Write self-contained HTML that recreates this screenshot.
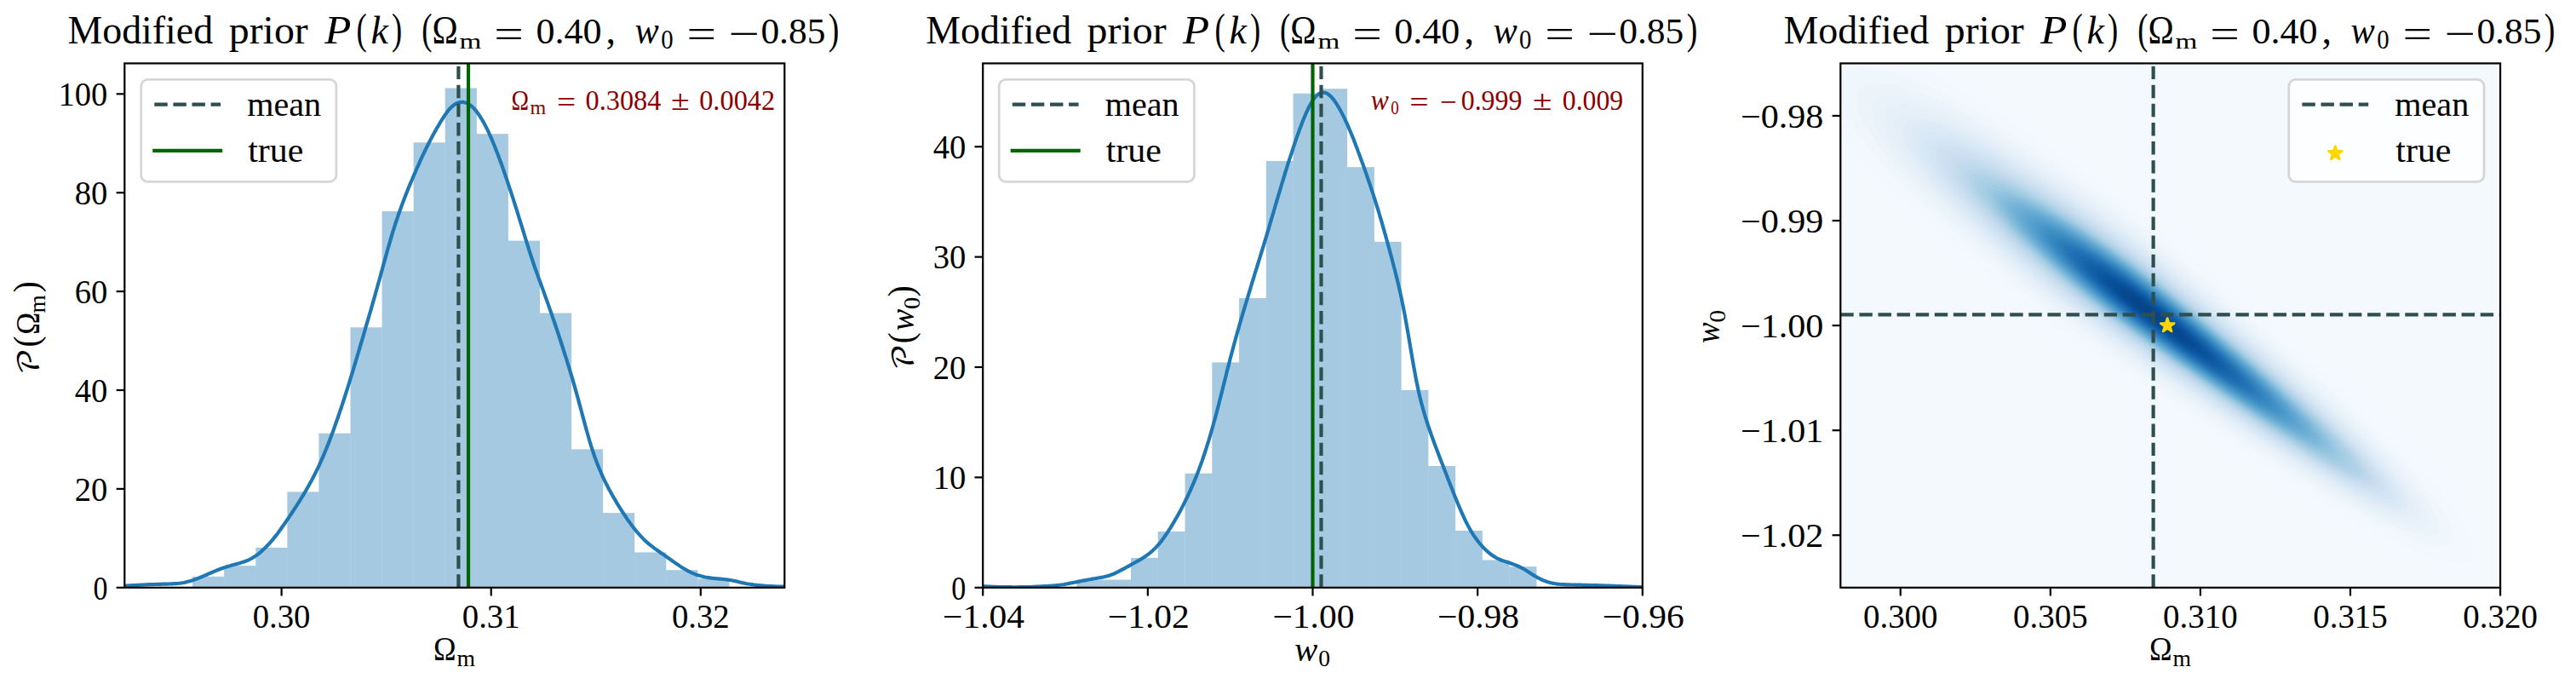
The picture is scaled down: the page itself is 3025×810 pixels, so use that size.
<!DOCTYPE html>
<html><head><meta charset="utf-8"><title>Modified prior P(k)</title>
<style>html,body{margin:0;padding:0;background:#fff}svg{display:block}</style></head>
<body>
<svg width="3025" height="810" viewBox="0 0 3025 810" font-family="'Liberation Serif', 'DejaVu Serif', serif">
<rect width="3025" height="810" fill="#fff"/>
<clipPath id="c1"><rect x="146.3" y="74.4" width="775.0" height="615.4"/></clipPath>
<g clip-path="url(#c1)">
<rect x="226.10" y="676.80" width="37.08" height="13.00" fill="#1f77b4" fill-opacity="0.4"/>
<rect x="263.18" y="664.10" width="37.08" height="25.70" fill="#1f77b4" fill-opacity="0.4"/>
<rect x="300.26" y="642.90" width="37.08" height="46.90" fill="#1f77b4" fill-opacity="0.4"/>
<rect x="337.34" y="577.40" width="37.08" height="112.40" fill="#1f77b4" fill-opacity="0.4"/>
<rect x="374.42" y="508.70" width="37.08" height="181.10" fill="#1f77b4" fill-opacity="0.4"/>
<rect x="411.50" y="384.30" width="37.08" height="305.50" fill="#1f77b4" fill-opacity="0.4"/>
<rect x="448.58" y="248.00" width="37.08" height="441.80" fill="#1f77b4" fill-opacity="0.4"/>
<rect x="485.66" y="167.30" width="37.08" height="522.50" fill="#1f77b4" fill-opacity="0.4"/>
<rect x="522.74" y="103.40" width="37.08" height="586.40" fill="#1f77b4" fill-opacity="0.4"/>
<rect x="559.82" y="157.20" width="37.08" height="532.60" fill="#1f77b4" fill-opacity="0.4"/>
<rect x="596.90" y="282.60" width="37.08" height="407.20" fill="#1f77b4" fill-opacity="0.4"/>
<rect x="633.98" y="367.50" width="37.08" height="322.30" fill="#1f77b4" fill-opacity="0.4"/>
<rect x="671.06" y="527.40" width="37.08" height="162.40" fill="#1f77b4" fill-opacity="0.4"/>
<rect x="708.14" y="602.10" width="37.08" height="87.70" fill="#1f77b4" fill-opacity="0.4"/>
<rect x="745.22" y="648.40" width="37.08" height="41.40" fill="#1f77b4" fill-opacity="0.4"/>
<rect x="782.30" y="669.20" width="37.08" height="20.60" fill="#1f77b4" fill-opacity="0.4"/>
<rect x="819.38" y="679.30" width="37.08" height="10.50" fill="#1f77b4" fill-opacity="0.4"/>
<path d="M145.8,687.6 L147.7,687.6 L149.7,687.5 L151.6,687.4 L153.6,687.3 L155.5,687.2 L157.5,687.1 L159.4,687.0 L161.4,686.9 L163.3,686.8 L165.2,686.7 L167.2,686.6 L169.1,686.5 L171.1,686.4 L173.0,686.3 L175.0,686.2 L176.9,686.2 L178.8,686.1 L180.8,686.0 L182.7,686.0 L184.7,685.9 L186.6,685.8 L188.6,685.8 L190.5,685.7 L192.5,685.7 L194.4,685.6 L196.3,685.6 L198.3,685.5 L200.2,685.4 L202.2,685.3 L204.1,685.2 L206.1,685.1 L208.0,685.0 L210.0,684.8 L211.9,684.6 L213.8,684.3 L215.8,684.0 L217.7,683.6 L219.7,683.1 L221.6,682.6 L223.6,682.1 L225.5,681.4 L227.5,680.8 L229.4,680.1 L231.3,679.4 L233.3,678.6 L235.2,677.8 L237.2,677.0 L239.1,676.2 L241.1,675.3 L243.0,674.5 L244.9,673.6 L246.9,672.8 L248.8,672.0 L250.8,671.1 L252.7,670.3 L254.7,669.5 L256.6,668.8 L258.6,668.0 L260.5,667.3 L262.4,666.6 L264.4,666.0 L266.3,665.3 L268.3,664.7 L270.2,664.2 L272.2,663.6 L274.1,663.1 L276.1,662.5 L278.0,662.0 L279.9,661.4 L281.9,660.9 L283.8,660.3 L285.8,659.7 L287.7,659.0 L289.7,658.3 L291.6,657.5 L293.6,656.5 L295.5,655.5 L297.4,654.4 L299.4,653.1 L301.3,651.8 L303.3,650.3 L305.2,648.8 L307.2,647.1 L309.1,645.3 L311.0,643.5 L313.0,641.5 L314.9,639.5 L316.9,637.4 L318.8,635.2 L320.8,632.8 L322.7,630.4 L324.7,627.9 L326.6,625.4 L328.5,622.7 L330.5,620.0 L332.4,617.2 L334.4,614.5 L336.3,611.6 L338.3,608.8 L340.2,605.9 L342.2,603.0 L344.1,600.1 L346.0,597.1 L348.0,594.1 L349.9,591.1 L351.9,588.0 L353.8,584.9 L355.8,581.7 L357.7,578.4 L359.7,575.1 L361.6,571.7 L363.5,568.3 L365.5,564.7 L367.4,561.1 L369.4,557.3 L371.3,553.4 L373.3,549.4 L375.2,545.3 L377.1,541.0 L379.1,536.6 L381.0,532.0 L383.0,527.3 L384.9,522.4 L386.9,517.4 L388.8,512.3 L390.8,507.1 L392.7,501.8 L394.6,496.3 L396.6,490.7 L398.5,485.1 L400.5,479.3 L402.4,473.4 L404.4,467.4 L406.3,461.4 L408.3,455.2 L410.2,449.0 L412.1,442.7 L414.1,436.3 L416.0,429.9 L418.0,423.4 L419.9,416.9 L421.9,410.3 L423.8,403.7 L425.8,397.1 L427.7,390.5 L429.6,383.8 L431.6,377.2 L433.5,370.5 L435.5,363.8 L437.4,357.0 L439.4,350.2 L441.3,343.4 L443.2,336.5 L445.2,329.5 L447.1,322.4 L449.1,315.3 L451.0,308.2 L453.0,301.1 L454.9,294.1 L456.9,287.3 L458.8,280.6 L460.7,274.1 L462.7,267.8 L464.6,261.7 L466.6,255.9 L468.5,250.2 L470.5,244.7 L472.4,239.4 L474.4,234.3 L476.3,229.2 L478.2,224.4 L480.2,219.6 L482.1,214.9 L484.1,210.3 L486.0,205.7 L488.0,201.3 L489.9,196.8 L491.9,192.5 L493.8,188.2 L495.7,184.0 L497.7,179.8 L499.6,175.8 L501.6,171.9 L503.5,168.0 L505.5,164.3 L507.4,160.6 L509.3,157.1 L511.3,153.6 L513.2,150.1 L515.2,146.8 L517.1,143.5 L519.1,140.3 L521.0,137.3 L523.0,134.4 L524.9,131.7 L526.8,129.2 L528.8,127.0 L530.7,125.1 L532.7,123.5 L534.6,122.1 L536.6,121.1 L538.5,120.4 L540.5,119.9 L542.4,119.8 L544.3,119.9 L546.3,120.4 L548.2,121.1 L550.2,122.1 L552.1,123.4 L554.1,125.0 L556.0,126.8 L558.0,128.9 L559.9,131.3 L561.8,133.9 L563.8,136.8 L565.7,139.9 L567.7,143.3 L569.6,146.9 L571.6,150.7 L573.5,154.7 L575.4,158.9 L577.4,163.3 L579.3,168.0 L581.3,172.7 L583.2,177.7 L585.2,182.8 L587.1,188.0 L589.1,193.3 L591.0,198.8 L592.9,204.4 L594.9,210.1 L596.8,215.9 L598.8,221.8 L600.7,227.7 L602.7,233.7 L604.6,239.8 L606.6,245.9 L608.5,252.1 L610.4,258.3 L612.4,264.6 L614.3,270.9 L616.3,277.3 L618.2,283.6 L620.2,289.9 L622.1,296.0 L624.1,302.0 L626.0,307.9 L627.9,313.5 L629.9,319.0 L631.8,324.4 L633.8,329.7 L635.7,335.0 L637.7,340.4 L639.6,345.7 L641.5,351.1 L643.5,356.6 L645.4,362.1 L647.4,367.7 L649.3,373.3 L651.3,379.0 L653.2,384.8 L655.2,390.6 L657.1,396.5 L659.0,402.5 L661.0,408.5 L662.9,414.6 L664.9,420.8 L666.8,427.0 L668.8,433.4 L670.7,439.8 L672.7,446.4 L674.6,453.1 L676.5,459.9 L678.5,466.9 L680.4,474.1 L682.4,481.3 L684.3,488.6 L686.3,495.9 L688.2,503.0 L690.2,510.0 L692.1,516.7 L694.0,523.2 L696.0,529.2 L697.9,535.0 L699.9,540.4 L701.8,545.5 L703.8,550.3 L705.7,554.8 L707.6,559.1 L709.6,563.3 L711.5,567.2 L713.5,571.0 L715.4,574.7 L717.4,578.3 L719.3,581.8 L721.3,585.1 L723.2,588.4 L725.1,591.7 L727.1,594.8 L729.0,597.9 L731.0,601.0 L732.9,603.9 L734.9,606.8 L736.8,609.7 L738.8,612.4 L740.7,615.1 L742.6,617.7 L744.6,620.2 L746.5,622.6 L748.5,625.0 L750.4,627.2 L752.4,629.4 L754.3,631.4 L756.3,633.4 L758.2,635.2 L760.1,637.0 L762.1,638.6 L764.0,640.2 L766.0,641.7 L767.9,643.2 L769.9,644.6 L771.8,646.0 L773.7,647.3 L775.7,648.7 L777.6,650.0 L779.6,651.4 L781.5,652.7 L783.5,654.1 L785.4,655.5 L787.4,656.9 L789.3,658.2 L791.2,659.6 L793.2,661.0 L795.1,662.3 L797.1,663.6 L799.0,664.9 L801.0,666.2 L802.9,667.4 L804.9,668.5 L806.8,669.6 L808.7,670.7 L810.7,671.6 L812.6,672.6 L814.6,673.4 L816.5,674.2 L818.5,674.9 L820.4,675.5 L822.4,676.1 L824.3,676.6 L826.2,677.1 L828.2,677.5 L830.1,677.8 L832.1,678.1 L834.0,678.4 L836.0,678.7 L837.9,678.9 L839.8,679.1 L841.8,679.3 L843.7,679.4 L845.7,679.6 L847.6,679.8 L849.6,680.0 L851.5,680.2 L853.5,680.4 L855.4,680.7 L857.3,681.0 L859.3,681.3 L861.2,681.7 L863.2,682.1 L865.1,682.5 L867.1,683.0 L869.0,683.5 L871.0,683.9 L872.9,684.4 L874.8,684.8 L876.8,685.2 L878.7,685.5 L880.7,685.8 L882.6,686.1 L884.6,686.4 L886.5,686.6 L888.5,686.9 L890.4,687.1 L892.3,687.2 L894.3,687.4 L896.2,687.6 L898.2,687.7 L900.1,687.9 L902.1,688.0 L904.0,688.1 L905.9,688.2 L907.9,688.3 L909.8,688.4 L911.8,688.5 L913.7,688.5 L915.7,688.6 L917.6,688.6 L919.6,688.7 L921.5,688.7" fill="none" stroke="#1f77b4" stroke-width="4.17" stroke-linejoin="round" stroke-linecap="butt"/>
</g>
<line x1="538.40" y1="689.80" x2="538.40" y2="74.40" stroke="#2f4f4f" stroke-width="4.17" stroke-dasharray="15.43 6.67"/>
<line x1="550.00" y1="689.80" x2="550.00" y2="74.40" stroke="#006400" stroke-width="4.17"/>
<rect x="146.30" y="74.40" width="775.00" height="615.40" fill="none" stroke="#000" stroke-width="2.2"/>
<line x1="330.60" y1="689.80" x2="330.60" y2="699.50" stroke="#000" stroke-width="2.2"/>
<text x="330.60" y="736.60" font-size="39.60" text-anchor="middle" textLength="67.80" lengthAdjust="spacingAndGlyphs" >0.30</text>
<line x1="576.70" y1="689.80" x2="576.70" y2="699.50" stroke="#000" stroke-width="2.2"/>
<text x="576.70" y="736.60" font-size="39.60" text-anchor="middle" textLength="67.80" lengthAdjust="spacingAndGlyphs" >0.31</text>
<line x1="822.80" y1="689.80" x2="822.80" y2="699.50" stroke="#000" stroke-width="2.2"/>
<text x="822.80" y="736.60" font-size="39.60" text-anchor="middle" textLength="67.80" lengthAdjust="spacingAndGlyphs" >0.32</text>
<line x1="136.60" y1="689.80" x2="146.30" y2="689.80" stroke="#000" stroke-width="2.2"/>
<text x="126.40" y="703.50" font-size="39.60" text-anchor="end" textLength="17.00" lengthAdjust="spacingAndGlyphs" >0</text>
<line x1="136.60" y1="573.90" x2="146.30" y2="573.90" stroke="#000" stroke-width="2.2"/>
<text x="126.40" y="587.60" font-size="39.60" text-anchor="end" textLength="38.60" lengthAdjust="spacingAndGlyphs" >20</text>
<line x1="136.60" y1="458.00" x2="146.30" y2="458.00" stroke="#000" stroke-width="2.2"/>
<text x="126.40" y="471.70" font-size="39.60" text-anchor="end" textLength="38.60" lengthAdjust="spacingAndGlyphs" >40</text>
<line x1="136.60" y1="342.10" x2="146.30" y2="342.10" stroke="#000" stroke-width="2.2"/>
<text x="126.40" y="355.80" font-size="39.60" text-anchor="end" textLength="38.60" lengthAdjust="spacingAndGlyphs" >60</text>
<line x1="136.60" y1="226.20" x2="146.30" y2="226.20" stroke="#000" stroke-width="2.2"/>
<text x="126.40" y="239.90" font-size="39.60" text-anchor="end" textLength="38.60" lengthAdjust="spacingAndGlyphs" >80</text>
<line x1="136.60" y1="110.30" x2="146.30" y2="110.30" stroke="#000" stroke-width="2.2"/>
<text x="126.40" y="124.00" font-size="39.60" text-anchor="end" textLength="57.80" lengthAdjust="spacingAndGlyphs" >100</text>
<text x="79.40" y="50.60" font-size="46.00" textLength="170.80" lengthAdjust="spacingAndGlyphs" >Modified</text>
<text x="268.70" y="50.60" font-size="46.00" textLength="93.10" lengthAdjust="spacingAndGlyphs" >prior</text>
<text x="381.20" y="50.60" font-size="46.00" font-style="italic" textLength="31.10" lengthAdjust="spacingAndGlyphs" >P</text>
<text x="418.60" y="50.60" font-size="50.00" textLength="12.20" lengthAdjust="spacingAndGlyphs" >(</text>
<text x="435.60" y="50.60" font-size="46.00" font-style="italic" textLength="20.40" lengthAdjust="spacingAndGlyphs" >k</text>
<text x="460.00" y="50.60" font-size="50.00" textLength="12.20" lengthAdjust="spacingAndGlyphs" >)</text>
<text x="495.20" y="50.60" font-size="50.00" textLength="12.20" lengthAdjust="spacingAndGlyphs" >(</text>
<text x="507.40" y="50.60" font-size="46.00" textLength="30.20" lengthAdjust="spacingAndGlyphs" >Ω</text>
<text x="539.60" y="57.40" font-size="26.00" textLength="25.80" lengthAdjust="spacingAndGlyphs" >m</text>
<text x="580.30" y="55.00" font-size="46.00" textLength="34.60" lengthAdjust="spacingAndGlyphs" >=</text>
<text x="629.40" y="50.60" font-size="42.00" textLength="77.00" lengthAdjust="spacingAndGlyphs" >0.40</text>
<text x="711.60" y="50.60" font-size="46.00" >,</text>
<text x="745.50" y="50.60" font-size="46.00" font-style="italic" textLength="28.20" lengthAdjust="spacingAndGlyphs" >w</text>
<text x="776.20" y="57.40" font-size="31.00" textLength="14.40" lengthAdjust="spacingAndGlyphs" >0</text>
<text x="806.40" y="55.00" font-size="46.00" textLength="34.60" lengthAdjust="spacingAndGlyphs" >=</text>
<text x="855.80" y="55.00" font-size="46.00" textLength="36.60" lengthAdjust="spacingAndGlyphs" >−</text>
<text x="893.40" y="50.60" font-size="42.00" textLength="76.00" lengthAdjust="spacingAndGlyphs" >0.85</text>
<text x="972.80" y="50.60" font-size="50.00" textLength="12.60" lengthAdjust="spacingAndGlyphs" >)</text>
<rect x="165.70" y="93.40" width="229.2" height="119.9" rx="7.8" ry="7.8" fill="#fff" fill-opacity="0.8" stroke="#ccc" stroke-opacity="0.8" stroke-width="2.78"/>
<line x1="181.30" y1="122.6" x2="259.10" y2="122.6" stroke="#2f4f4f" stroke-width="4.17" stroke-dasharray="15.43 6.67"/>
<line x1="181.30" y1="176.8" x2="259.10" y2="176.8" stroke="#006400" stroke-width="4.17" stroke-linecap="square"/>
<text x="290.20" y="136.20" font-size="39.60" textLength="87.00" lengthAdjust="spacingAndGlyphs" >mean</text>
<text x="291.20" y="190.00" font-size="39.60" textLength="65.20" lengthAdjust="spacingAndGlyphs" >true</text>
<text x="600.40" y="128.70" font-size="33.50" textLength="20.50" lengthAdjust="spacingAndGlyphs" fill="#8b0000" >Ω</text>
<text x="622.60" y="133.60" font-size="23.50" textLength="18.70" lengthAdjust="spacingAndGlyphs" fill="#8b0000" >m</text>
<text x="653.90" y="130.70" font-size="33.50" textLength="22.20" lengthAdjust="spacingAndGlyphs" fill="#8b0000" >=</text>
<text x="687.60" y="128.70" font-size="33.50" textLength="88.80" lengthAdjust="spacingAndGlyphs" fill="#8b0000" >0.3084</text>
<text x="787.90" y="128.70" font-size="33.50" textLength="21.70" lengthAdjust="spacingAndGlyphs" fill="#8b0000" >±</text>
<text x="821.20" y="128.70" font-size="33.50" textLength="89.00" lengthAdjust="spacingAndGlyphs" fill="#8b0000" >0.0042</text>
<text x="508.90" y="774.90" font-size="39.80" textLength="26.60" lengthAdjust="spacingAndGlyphs" >Ω</text>
<text x="536.50" y="781.60" font-size="27.50" textLength="21.50" lengthAdjust="spacingAndGlyphs" >m</text>
<g transform="translate(46.4,438) rotate(-90)">
<text x="-2.00" y="0.00" font-size="34.00" textLength="31.00" lengthAdjust="spacingAndGlyphs" font-family="'DejaVu Math TeX Gyre','Liberation Serif',serif" >𝒫</text>
<text x="30.50" y="-1.00" font-size="43.00" textLength="13.00" lengthAdjust="spacingAndGlyphs" >(</text>
<text x="45.20" y="0.00" font-size="39.80" textLength="26.00" lengthAdjust="spacingAndGlyphs" >Ω</text>
<text x="70.60" y="6.70" font-size="27.50" textLength="21.30" lengthAdjust="spacingAndGlyphs" >m</text>
<text x="94.70" y="-1.00" font-size="43.00" textLength="13.00" lengthAdjust="spacingAndGlyphs" >)</text>
</g>
<clipPath id="c2"><rect x="1154.2" y="74.4" width="774.5999999999999" height="615.4"/></clipPath>
<g clip-path="url(#c2)">
<rect x="1264.50" y="680.50" width="31.76" height="9.30" fill="#1f77b4" fill-opacity="0.4"/>
<rect x="1296.26" y="680.50" width="31.76" height="9.30" fill="#1f77b4" fill-opacity="0.4"/>
<rect x="1328.02" y="654.90" width="31.76" height="34.90" fill="#1f77b4" fill-opacity="0.4"/>
<rect x="1359.78" y="623.90" width="31.76" height="65.90" fill="#1f77b4" fill-opacity="0.4"/>
<rect x="1391.54" y="555.70" width="31.76" height="134.10" fill="#1f77b4" fill-opacity="0.4"/>
<rect x="1423.30" y="425.40" width="31.76" height="264.40" fill="#1f77b4" fill-opacity="0.4"/>
<rect x="1455.06" y="349.90" width="31.76" height="339.90" fill="#1f77b4" fill-opacity="0.4"/>
<rect x="1486.82" y="189.00" width="31.76" height="500.80" fill="#1f77b4" fill-opacity="0.4"/>
<rect x="1518.58" y="109.70" width="31.76" height="580.10" fill="#1f77b4" fill-opacity="0.4"/>
<rect x="1550.34" y="104.20" width="31.76" height="585.60" fill="#1f77b4" fill-opacity="0.4"/>
<rect x="1582.10" y="196.20" width="31.76" height="493.60" fill="#1f77b4" fill-opacity="0.4"/>
<rect x="1613.86" y="283.80" width="31.76" height="406.00" fill="#1f77b4" fill-opacity="0.4"/>
<rect x="1645.62" y="457.90" width="31.76" height="231.90" fill="#1f77b4" fill-opacity="0.4"/>
<rect x="1677.38" y="547.00" width="31.76" height="142.80" fill="#1f77b4" fill-opacity="0.4"/>
<rect x="1709.14" y="623.00" width="31.76" height="66.80" fill="#1f77b4" fill-opacity="0.4"/>
<rect x="1740.90" y="657.40" width="31.76" height="32.40" fill="#1f77b4" fill-opacity="0.4"/>
<rect x="1772.66" y="665.20" width="31.76" height="24.60" fill="#1f77b4" fill-opacity="0.4"/>
<path d="M1150.0,688.2 L1152.0,688.2 L1153.9,688.3 L1155.9,688.4 L1157.8,688.4 L1159.8,688.5 L1161.7,688.6 L1163.7,688.7 L1165.6,688.8 L1167.6,688.8 L1169.5,688.9 L1171.5,689.0 L1173.4,689.0 L1175.4,689.1 L1177.3,689.1 L1179.3,689.1 L1181.2,689.2 L1183.2,689.2 L1185.1,689.2 L1187.1,689.2 L1189.0,689.3 L1191.0,689.3 L1192.9,689.3 L1194.9,689.3 L1196.8,689.2 L1198.8,689.2 L1200.7,689.2 L1202.7,689.2 L1204.7,689.1 L1206.6,689.1 L1208.6,689.0 L1210.5,689.0 L1212.5,688.9 L1214.4,688.8 L1216.4,688.7 L1218.3,688.6 L1220.3,688.5 L1222.2,688.4 L1224.2,688.3 L1226.1,688.2 L1228.1,688.1 L1230.0,688.0 L1232.0,687.8 L1233.9,687.7 L1235.9,687.5 L1237.8,687.4 L1239.8,687.2 L1241.7,687.0 L1243.7,686.8 L1245.6,686.5 L1247.6,686.3 L1249.5,686.0 L1251.5,685.6 L1253.4,685.3 L1255.4,684.9 L1257.4,684.5 L1259.3,684.1 L1261.3,683.7 L1263.2,683.4 L1265.2,683.0 L1267.1,682.6 L1269.1,682.2 L1271.0,681.8 L1273.0,681.4 L1274.9,681.1 L1276.9,680.7 L1278.8,680.3 L1280.8,680.0 L1282.7,679.6 L1284.7,679.3 L1286.6,679.0 L1288.6,678.6 L1290.5,678.3 L1292.5,677.9 L1294.4,677.6 L1296.4,677.2 L1298.3,676.7 L1300.3,676.2 L1302.2,675.7 L1304.2,675.0 L1306.2,674.3 L1308.1,673.5 L1310.1,672.7 L1312.0,671.7 L1314.0,670.7 L1315.9,669.7 L1317.9,668.6 L1319.8,667.6 L1321.8,666.5 L1323.7,665.4 L1325.7,664.3 L1327.6,663.2 L1329.6,662.1 L1331.5,661.0 L1333.5,660.0 L1335.4,658.9 L1337.4,657.8 L1339.3,656.7 L1341.3,655.5 L1343.2,654.3 L1345.2,653.0 L1347.1,651.6 L1349.1,650.1 L1351.0,648.6 L1353.0,646.9 L1354.9,645.1 L1356.9,643.1 L1358.9,641.0 L1360.8,638.8 L1362.8,636.4 L1364.7,633.9 L1366.7,631.3 L1368.6,628.5 L1370.6,625.6 L1372.5,622.6 L1374.5,619.6 L1376.4,616.4 L1378.4,613.1 L1380.3,609.8 L1382.3,606.4 L1384.2,602.9 L1386.2,599.3 L1388.1,595.6 L1390.1,591.8 L1392.0,587.9 L1394.0,583.9 L1395.9,579.8 L1397.9,575.5 L1399.8,571.2 L1401.8,566.6 L1403.7,561.9 L1405.7,557.0 L1407.6,551.9 L1409.6,546.6 L1411.6,541.1 L1413.5,535.4 L1415.5,529.5 L1417.4,523.4 L1419.4,517.1 L1421.3,510.6 L1423.3,503.9 L1425.2,497.0 L1427.2,489.9 L1429.1,482.5 L1431.1,475.0 L1433.0,467.3 L1435.0,459.5 L1436.9,451.7 L1438.9,443.9 L1440.8,436.1 L1442.8,428.4 L1444.7,420.8 L1446.7,413.5 L1448.6,406.2 L1450.6,399.1 L1452.5,392.1 L1454.5,385.2 L1456.4,378.4 L1458.4,371.7 L1460.3,365.1 L1462.3,358.5 L1464.3,352.0 L1466.2,345.6 L1468.2,339.1 L1470.1,332.7 L1472.1,326.4 L1474.0,320.0 L1476.0,313.7 L1477.9,307.4 L1479.9,301.0 L1481.8,294.7 L1483.8,288.3 L1485.7,281.8 L1487.7,275.3 L1489.6,268.8 L1491.6,262.2 L1493.5,255.6 L1495.5,249.0 L1497.4,242.3 L1499.4,235.7 L1501.3,229.1 L1503.3,222.6 L1505.2,216.0 L1507.2,209.6 L1509.1,203.2 L1511.1,196.9 L1513.0,190.7 L1515.0,184.6 L1517.0,178.6 L1518.9,172.7 L1520.9,166.9 L1522.8,161.3 L1524.8,155.8 L1526.7,150.4 L1528.7,145.3 L1530.6,140.3 L1532.6,135.6 L1534.5,131.1 L1536.5,127.0 L1538.4,123.2 L1540.4,119.8 L1542.3,116.8 L1544.3,114.2 L1546.2,112.1 L1548.2,110.5 L1550.1,109.4 L1552.1,108.7 L1554.0,108.5 L1556.0,108.8 L1557.9,109.5 L1559.9,110.7 L1561.8,112.3 L1563.8,114.3 L1565.8,116.6 L1567.7,119.2 L1569.7,122.2 L1571.6,125.4 L1573.6,128.8 L1575.5,132.4 L1577.5,136.2 L1579.4,140.2 L1581.4,144.4 L1583.3,148.7 L1585.3,153.3 L1587.2,158.0 L1589.2,162.8 L1591.1,167.8 L1593.1,172.9 L1595.0,178.1 L1597.0,183.4 L1598.9,188.7 L1600.9,194.1 L1602.8,199.6 L1604.8,205.1 L1606.7,210.8 L1608.7,216.5 L1610.6,222.3 L1612.6,228.3 L1614.5,234.4 L1616.5,240.7 L1618.5,247.0 L1620.4,253.6 L1622.4,260.2 L1624.3,267.0 L1626.3,273.8 L1628.2,280.8 L1630.2,287.9 L1632.1,295.0 L1634.1,302.3 L1636.0,309.7 L1638.0,317.3 L1639.9,325.1 L1641.9,333.1 L1643.8,341.5 L1645.8,350.4 L1647.7,359.9 L1649.7,369.9 L1651.6,380.6 L1653.6,391.8 L1655.5,403.3 L1657.5,414.8 L1659.4,426.2 L1661.4,437.1 L1663.3,447.3 L1665.3,456.7 L1667.2,465.4 L1669.2,473.2 L1671.2,480.5 L1673.1,487.2 L1675.1,493.5 L1677.0,499.5 L1679.0,505.2 L1680.9,510.8 L1682.9,516.2 L1684.8,521.5 L1686.8,526.7 L1688.7,531.8 L1690.7,536.9 L1692.6,542.0 L1694.6,547.0 L1696.5,552.1 L1698.5,557.1 L1700.4,562.2 L1702.4,567.2 L1704.3,572.1 L1706.3,577.1 L1708.2,581.9 L1710.2,586.7 L1712.1,591.5 L1714.1,596.1 L1716.0,600.7 L1718.0,605.0 L1719.9,609.2 L1721.9,613.3 L1723.9,617.1 L1725.8,620.6 L1727.8,624.0 L1729.7,627.1 L1731.7,630.1 L1733.6,632.8 L1735.6,635.4 L1737.5,637.8 L1739.5,640.1 L1741.4,642.2 L1743.4,644.2 L1745.3,646.1 L1747.3,647.9 L1749.2,649.5 L1751.2,651.0 L1753.1,652.4 L1755.1,653.6 L1757.0,654.8 L1759.0,655.8 L1760.9,656.7 L1762.9,657.5 L1764.8,658.2 L1766.8,658.9 L1768.7,659.6 L1770.7,660.2 L1772.6,660.8 L1774.6,661.5 L1776.6,662.2 L1778.5,662.9 L1780.5,663.6 L1782.4,664.5 L1784.4,665.4 L1786.3,666.3 L1788.3,667.4 L1790.2,668.5 L1792.2,669.7 L1794.1,670.9 L1796.1,672.2 L1798.0,673.4 L1800.0,674.7 L1801.9,675.9 L1803.9,677.0 L1805.8,678.2 L1807.8,679.2 L1809.7,680.2 L1811.7,681.0 L1813.6,681.8 L1815.6,682.5 L1817.5,683.2 L1819.5,683.7 L1821.4,684.2 L1823.4,684.6 L1825.4,685.0 L1827.3,685.3 L1829.3,685.6 L1831.2,685.8 L1833.2,686.0 L1835.1,686.1 L1837.1,686.2 L1839.0,686.3 L1841.0,686.4 L1842.9,686.4 L1844.9,686.5 L1846.8,686.5 L1848.8,686.6 L1850.7,686.6 L1852.7,686.7 L1854.6,686.7 L1856.6,686.7 L1858.5,686.8 L1860.5,686.8 L1862.4,686.9 L1864.4,686.9 L1866.3,687.0 L1868.3,687.0 L1870.2,687.1 L1872.2,687.1 L1874.1,687.2 L1876.1,687.2 L1878.1,687.3 L1880.0,687.3 L1882.0,687.4 L1883.9,687.5 L1885.9,687.5 L1887.8,687.6 L1889.8,687.7 L1891.7,687.8 L1893.7,687.8 L1895.6,687.9 L1897.6,688.0 L1899.5,688.0 L1901.5,688.1 L1903.4,688.2 L1905.4,688.3 L1907.3,688.4 L1909.3,688.4 L1911.2,688.5 L1913.2,688.6 L1915.1,688.7 L1917.1,688.8 L1919.0,688.8 L1921.0,688.9 L1922.9,689.0 L1924.9,689.1 L1926.8,689.1 L1928.8,689.2" fill="none" stroke="#1f77b4" stroke-width="4.17" stroke-linejoin="round" stroke-linecap="butt"/>
</g>
<line x1="1541.50" y1="689.80" x2="1541.50" y2="74.40" stroke="#006400" stroke-width="4.17"/>
<line x1="1551.48" y1="689.80" x2="1551.48" y2="74.40" stroke="#2f4f4f" stroke-width="4.17" stroke-dasharray="15.43 6.67"/>
<rect x="1154.20" y="74.40" width="774.60" height="615.40" fill="none" stroke="#000" stroke-width="2.2"/>
<line x1="1154.20" y1="689.80" x2="1154.20" y2="699.50" stroke="#000" stroke-width="2.2"/>
<text x="1155.10" y="736.60" font-size="39.60" text-anchor="middle" textLength="96.00" lengthAdjust="spacingAndGlyphs" >−1.04</text>
<line x1="1347.85" y1="689.80" x2="1347.85" y2="699.50" stroke="#000" stroke-width="2.2"/>
<text x="1348.75" y="736.60" font-size="39.60" text-anchor="middle" textLength="96.00" lengthAdjust="spacingAndGlyphs" >−1.02</text>
<line x1="1541.50" y1="689.80" x2="1541.50" y2="699.50" stroke="#000" stroke-width="2.2"/>
<text x="1542.40" y="736.60" font-size="39.60" text-anchor="middle" textLength="96.00" lengthAdjust="spacingAndGlyphs" >−1.00</text>
<line x1="1735.15" y1="689.80" x2="1735.15" y2="699.50" stroke="#000" stroke-width="2.2"/>
<text x="1736.05" y="736.60" font-size="39.60" text-anchor="middle" textLength="96.00" lengthAdjust="spacingAndGlyphs" >−0.98</text>
<line x1="1928.80" y1="689.80" x2="1928.80" y2="699.50" stroke="#000" stroke-width="2.2"/>
<text x="1929.70" y="736.60" font-size="39.60" text-anchor="middle" textLength="96.00" lengthAdjust="spacingAndGlyphs" >−0.96</text>
<line x1="1144.50" y1="689.80" x2="1154.20" y2="689.80" stroke="#000" stroke-width="2.2"/>
<text x="1134.30" y="703.50" font-size="39.60" text-anchor="end" textLength="17.00" lengthAdjust="spacingAndGlyphs" >0</text>
<line x1="1144.50" y1="560.40" x2="1154.20" y2="560.40" stroke="#000" stroke-width="2.2"/>
<text x="1134.30" y="574.10" font-size="39.60" text-anchor="end" textLength="38.60" lengthAdjust="spacingAndGlyphs" >10</text>
<line x1="1144.50" y1="431.00" x2="1154.20" y2="431.00" stroke="#000" stroke-width="2.2"/>
<text x="1134.30" y="444.70" font-size="39.60" text-anchor="end" textLength="38.60" lengthAdjust="spacingAndGlyphs" >20</text>
<line x1="1144.50" y1="301.60" x2="1154.20" y2="301.60" stroke="#000" stroke-width="2.2"/>
<text x="1134.30" y="315.30" font-size="39.60" text-anchor="end" textLength="38.60" lengthAdjust="spacingAndGlyphs" >30</text>
<line x1="1144.50" y1="172.20" x2="1154.20" y2="172.20" stroke="#000" stroke-width="2.2"/>
<text x="1134.30" y="185.90" font-size="39.60" text-anchor="end" textLength="38.60" lengthAdjust="spacingAndGlyphs" >40</text>
<text x="1087.30" y="50.60" font-size="46.00" textLength="170.80" lengthAdjust="spacingAndGlyphs" >Modified</text>
<text x="1276.60" y="50.60" font-size="46.00" textLength="93.10" lengthAdjust="spacingAndGlyphs" >prior</text>
<text x="1389.10" y="50.60" font-size="46.00" font-style="italic" textLength="31.10" lengthAdjust="spacingAndGlyphs" >P</text>
<text x="1426.50" y="50.60" font-size="50.00" textLength="12.20" lengthAdjust="spacingAndGlyphs" >(</text>
<text x="1443.50" y="50.60" font-size="46.00" font-style="italic" textLength="20.40" lengthAdjust="spacingAndGlyphs" >k</text>
<text x="1467.90" y="50.60" font-size="50.00" textLength="12.20" lengthAdjust="spacingAndGlyphs" >)</text>
<text x="1503.10" y="50.60" font-size="50.00" textLength="12.20" lengthAdjust="spacingAndGlyphs" >(</text>
<text x="1515.30" y="50.60" font-size="46.00" textLength="30.20" lengthAdjust="spacingAndGlyphs" >Ω</text>
<text x="1547.50" y="57.40" font-size="26.00" textLength="25.80" lengthAdjust="spacingAndGlyphs" >m</text>
<text x="1588.20" y="55.00" font-size="46.00" textLength="34.60" lengthAdjust="spacingAndGlyphs" >=</text>
<text x="1637.30" y="50.60" font-size="42.00" textLength="77.00" lengthAdjust="spacingAndGlyphs" >0.40</text>
<text x="1719.50" y="50.60" font-size="46.00" >,</text>
<text x="1753.40" y="50.60" font-size="46.00" font-style="italic" textLength="28.20" lengthAdjust="spacingAndGlyphs" >w</text>
<text x="1784.10" y="57.40" font-size="31.00" textLength="14.40" lengthAdjust="spacingAndGlyphs" >0</text>
<text x="1814.30" y="55.00" font-size="46.00" textLength="34.60" lengthAdjust="spacingAndGlyphs" >=</text>
<text x="1863.70" y="55.00" font-size="46.00" textLength="36.60" lengthAdjust="spacingAndGlyphs" >−</text>
<text x="1901.30" y="50.60" font-size="42.00" textLength="76.00" lengthAdjust="spacingAndGlyphs" >0.85</text>
<text x="1980.70" y="50.60" font-size="50.00" textLength="12.60" lengthAdjust="spacingAndGlyphs" >)</text>
<rect x="1173.20" y="93.40" width="229.2" height="119.9" rx="7.8" ry="7.8" fill="#fff" fill-opacity="0.8" stroke="#ccc" stroke-opacity="0.8" stroke-width="2.78"/>
<line x1="1188.80" y1="122.6" x2="1266.60" y2="122.6" stroke="#2f4f4f" stroke-width="4.17" stroke-dasharray="15.43 6.67"/>
<line x1="1188.80" y1="176.8" x2="1266.60" y2="176.8" stroke="#006400" stroke-width="4.17" stroke-linecap="square"/>
<text x="1297.70" y="136.20" font-size="39.60" textLength="87.00" lengthAdjust="spacingAndGlyphs" >mean</text>
<text x="1298.70" y="190.00" font-size="39.60" textLength="65.20" lengthAdjust="spacingAndGlyphs" >true</text>
<text x="1609.70" y="128.70" font-size="33.50" font-style="italic" textLength="21.10" lengthAdjust="spacingAndGlyphs" fill="#8b0000" >w</text>
<text x="1633.20" y="133.50" font-size="23.50" textLength="9.50" lengthAdjust="spacingAndGlyphs" fill="#8b0000" >0</text>
<text x="1655.20" y="130.70" font-size="33.50" textLength="22.40" lengthAdjust="spacingAndGlyphs" fill="#8b0000" >=</text>
<text x="1691.20" y="130.70" font-size="33.50" textLength="19.70" lengthAdjust="spacingAndGlyphs" fill="#8b0000" >−</text>
<text x="1715.70" y="128.70" font-size="33.50" textLength="71.80" lengthAdjust="spacingAndGlyphs" fill="#8b0000" >0.999</text>
<text x="1799.80" y="128.70" font-size="33.50" textLength="22.80" lengthAdjust="spacingAndGlyphs" fill="#8b0000" >±</text>
<text x="1834.80" y="128.70" font-size="33.50" textLength="71.30" lengthAdjust="spacingAndGlyphs" fill="#8b0000" >0.009</text>
<text x="1520.30" y="775.80" font-size="40.50" font-style="italic" textLength="27.00" lengthAdjust="spacingAndGlyphs" >w</text>
<text x="1548.30" y="782.40" font-size="28.00" textLength="13.80" lengthAdjust="spacingAndGlyphs" >0</text>
<g transform="translate(1073,432.8) rotate(-90)">
<text x="-2.00" y="0.00" font-size="34.00" textLength="31.00" lengthAdjust="spacingAndGlyphs" font-family="'DejaVu Math TeX Gyre','Liberation Serif',serif" >𝒫</text>
<text x="29.60" y="-1.00" font-size="43.00" textLength="13.00" lengthAdjust="spacingAndGlyphs" >(</text>
<text x="44.60" y="0.00" font-size="40.50" font-style="italic" textLength="25.50" lengthAdjust="spacingAndGlyphs" >w</text>
<text x="69.80" y="6.90" font-size="28.00" textLength="14.20" lengthAdjust="spacingAndGlyphs" >0</text>
<text x="84.60" y="-1.00" font-size="43.00" textLength="13.00" lengthAdjust="spacingAndGlyphs" >)</text>
</g>
<clipPath id="c3"><rect x="2161.3" y="74.4" width="774.7999999999997" height="615.4"/></clipPath>
<clipPath id="c3k"><rect x="2161.3" y="74.4" width="744.6999999999998" height="575.6"/></clipPath>
<rect x="2161.3" y="74.4" width="774.7999999999997" height="615.4" fill="#f4f9fe"/>
<g clip-path="url(#c3)">
<path d="M2903.4,656.5 2905.8,650.4 2905.3,642.1 2902.0,631.8 2895.7,619.4 2886.7,605.2 2874.9,589.1 2860.4,571.4 2843.4,552.0 2824.0,531.3 2802.4,509.4 2778.7,486.3 2753.0,462.2 2725.8,437.4 2697.2,411.8 2667.5,385.5 2637.2,358.6 2606.5,331.0 2575.7,303.2 2542.6,274.3 2508.9,246.6 2474.7,220.7 2440.5,196.4 2406.7,173.8 2374.9,151.3 2344.2,130.4 2314.6,111.7 2286.3,95.3 2259.7,81.3 2234.8,69.8 2211.9,60.9 2191.2,54.6 2172.8,50.9 2157.0,49.9 2143.9,51.4 2133.6,55.4 2126.2,61.9 2122.2,70.2 2121.3,80.8 2123.6,93.5 2129.1,108.1 2137.8,124.4 2149.5,142.4 2164.4,161.9 2182.2,182.6 2202.9,204.4 2226.2,227.2 2252.1,250.7 2280.4,274.8 2310.5,299.6 2341.2,326.2 2373.7,352.8 2407.7,378.9 2443.1,404.3 2479.6,428.8 2514.4,451.5 2548.9,474.0 2582.7,496.3 2615.7,518.2 2647.8,539.3 2678.8,559.2 2708.6,577.8 2737.0,594.9 2763.7,610.2 2788.6,623.8 2811.5,635.3 2832.2,644.9 2850.6,652.3 2866.5,657.6 2879.9,660.7 2890.5,661.5 2898.4,660.1Z" fill="#f2f8fd"/>
<path d="M2878.7,637.6 2880.7,632.1 2880.1,624.6 2876.7,615.2 2870.7,603.9 2862.1,590.8 2850.9,576.0 2837.2,559.6 2821.2,541.8 2802.9,522.6 2782.6,502.3 2760.3,480.8 2736.3,458.5 2710.7,435.4 2683.9,411.5 2656.2,387.1 2627.8,362.0 2599.0,336.4 2569.9,310.7 2539.6,284.6 2508.8,259.5 2477.7,235.8 2446.6,213.6 2415.9,192.8 2386.2,173.2 2358.2,154.2 2331.2,137.1 2305.6,122.1 2281.4,109.2 2258.8,98.6 2238.1,90.2 2219.5,84.2 2203.0,80.5 2188.8,79.2 2177.1,80.2 2168.0,83.5 2161.6,89.0 2158.3,96.2 2157.8,105.5 2160.1,116.7 2165.4,129.6 2173.5,144.3 2184.4,160.4 2198.1,177.9 2214.5,196.6 2233.4,216.4 2254.8,237.1 2278.4,258.5 2304.1,280.5 2330.9,303.9 2359.0,328.0 2388.7,352.1 2419.7,376.0 2451.9,399.2 2485.0,421.7 2517.3,443.2 2549.4,464.4 2581.0,485.4 2611.7,505.9 2641.7,525.7 2670.6,544.4 2698.3,561.9 2724.7,577.9 2749.5,592.4 2772.7,605.2 2793.9,616.2 2813.2,625.3 2830.2,632.5 2844.9,637.6 2857.2,640.7 2867.0,641.8 2874.2,640.7Z" fill="#eff6fc"/>
<path d="M2863.0,625.6 2864.9,620.5 2864.1,613.5 2860.8,604.7 2854.9,594.0 2846.6,581.7 2835.8,567.7 2822.6,552.1 2807.2,535.2 2789.7,517.0 2770.2,497.6 2748.8,477.3 2725.8,456.0 2701.3,433.9 2675.7,411.2 2649.1,387.9 2621.9,364.0 2594.3,339.7 2566.5,315.3 2537.8,290.9 2508.9,267.4 2479.7,245.2 2450.6,224.3 2421.8,204.7 2393.7,186.6 2367.3,169.0 2342.0,152.9 2317.9,138.8 2295.3,126.6 2274.2,116.5 2254.9,108.5 2237.5,102.7 2222.2,99.1 2209.0,97.6 2198.2,98.4 2189.9,101.2 2184.0,106.1 2181.1,112.7 2180.8,121.2 2183.1,131.5 2188.2,143.5 2195.9,157.0 2206.3,172.0 2219.3,188.3 2234.7,205.8 2252.5,224.3 2272.6,243.6 2294.8,263.7 2318.8,284.5 2343.7,306.8 2370.2,329.3 2398.0,351.9 2427.1,374.3 2457.3,396.1 2488.3,417.5 2519.1,438.1 2549.6,458.5 2579.7,478.6 2609.1,498.2 2637.7,517.2 2665.2,535.1 2691.7,551.9 2716.8,567.3 2740.5,581.3 2762.6,593.6 2782.8,604.2 2801.1,613.1 2817.2,620.0 2831.2,625.1 2842.8,628.2 2852.1,629.3 2858.8,628.4Z" fill="#ecf4fb"/>
<path d="M2851.2,616.6 2852.9,611.8 2852.1,605.2 2848.8,596.8 2843.1,586.6 2834.9,574.8 2824.4,561.4 2811.7,546.5 2796.7,530.2 2779.8,512.7 2760.9,494.1 2740.2,474.5 2717.9,454.0 2694.3,432.8 2669.5,410.9 2643.9,388.4 2617.6,365.4 2590.9,342.1 2563.9,318.6 2536.6,295.5 2509.1,273.3 2481.3,252.1 2453.6,232.2 2426.3,213.6 2399.6,196.3 2374.2,179.9 2350.2,164.6 2327.4,151.1 2305.9,139.5 2285.9,129.8 2267.6,122.1 2251.1,116.5 2236.7,112.9 2224.3,111.4 2214.1,111.9 2206.3,114.5 2200.9,119.0 2198.2,125.1 2198.0,133.0 2200.4,142.7 2205.3,153.9 2212.7,166.7 2222.7,180.9 2235.1,196.3 2249.8,212.8 2266.8,230.3 2285.9,248.7 2307.0,267.8 2329.6,287.9 2353.3,309.0 2378.5,330.4 2405.0,351.9 2432.7,373.1 2461.3,393.9 2490.7,414.3 2520.3,434.3 2549.8,454.1 2578.8,473.5 2607.1,492.5 2634.6,510.8 2661.2,528.2 2686.7,544.5 2710.9,559.4 2733.7,572.9 2754.9,584.9 2774.4,595.3 2791.9,603.9 2807.5,610.7 2820.9,615.7 2832.0,618.8 2840.8,619.9 2847.3,619.2Z" fill="#e9f2fa"/>
<path d="M2841.7,609.2 2843.2,604.7 2842.4,598.4 2839.1,590.3 2833.5,580.5 2825.5,569.1 2815.3,556.2 2802.8,541.8 2788.3,526.1 2771.7,509.2 2753.3,491.2 2733.2,472.2 2711.6,452.4 2688.7,431.8 2664.6,410.6 2639.6,388.8 2614.1,366.6 2588.1,343.9 2561.9,321.3 2535.7,299.2 2509.2,277.9 2482.7,257.7 2456.2,238.6 2430.0,220.7 2404.5,204.1 2379.9,188.7 2356.9,174.1 2335.1,161.1 2314.5,149.9 2295.4,140.6 2278.0,133.1 2262.3,127.6 2248.5,124.1 2236.7,122.6 2227.1,123.0 2219.7,125.3 2214.6,129.5 2212.1,135.2 2212.0,142.7 2214.3,151.8 2219.1,162.5 2226.3,174.6 2235.9,188.1 2247.8,202.8 2262.0,218.6 2278.3,235.3 2296.6,252.9 2316.9,271.1 2338.3,290.7 2361.0,310.9 2385.2,331.4 2410.6,351.9 2437.1,372.2 2464.5,392.2 2492.6,411.8 2521.3,431.3 2549.8,450.5 2577.9,469.5 2605.4,488.0 2632.1,505.7 2657.9,522.6 2682.6,538.4 2706.1,553.0 2728.1,566.2 2748.7,577.9 2767.5,588.0 2784.5,596.4 2799.5,603.1 2812.4,608.0 2823.2,611.1 2831.7,612.3 2837.9,611.7Z" fill="#e6f0f9"/>
<path d="M2833.5,603.0 2835.0,598.7 2834.1,592.6 2830.9,584.8 2825.3,575.3 2817.5,564.3 2807.5,551.8 2795.3,537.8 2781.1,522.6 2764.9,506.2 2747.0,488.7 2727.3,470.3 2706.2,451.0 2683.9,431.0 2660.4,410.3 2636.1,389.1 2611.1,367.5 2585.8,345.5 2560.2,323.5 2534.9,302.3 2509.4,281.9 2483.8,262.4 2458.4,244.0 2433.2,226.7 2408.7,210.7 2384.9,196.0 2362.7,182.0 2341.7,169.5 2322.0,158.7 2303.6,149.7 2286.9,142.4 2271.8,137.1 2258.6,133.6 2247.3,132.0 2238.1,132.3 2231.1,134.5 2226.2,138.4 2223.9,143.8 2223.9,150.9 2226.2,159.6 2230.9,169.8 2237.9,181.4 2247.2,194.3 2258.7,208.4 2272.3,223.6 2288.1,239.6 2305.7,256.5 2325.1,274.2 2345.7,293.1 2367.6,312.5 2390.9,332.2 2415.3,351.9 2440.8,371.5 2467.2,390.8 2494.2,409.7 2522.1,428.8 2549.9,447.6 2577.2,466.1 2603.9,484.1 2629.9,501.4 2655.0,517.9 2679.1,533.4 2701.9,547.6 2723.4,560.5 2743.3,571.9 2761.6,581.8 2778.1,590.1 2792.7,596.7 2805.3,601.5 2815.7,604.6 2823.9,605.9 2829.9,605.4Z" fill="#e3eef8"/>
<path d="M2826.4,597.6 2827.8,593.4 2826.9,587.5 2823.6,580.0 2818.2,570.8 2810.5,560.1 2800.6,547.9 2788.7,534.3 2774.8,519.5 2758.9,503.5 2741.4,486.5 2722.2,468.5 2701.6,449.7 2679.7,430.2 2656.7,410.1 2632.9,389.4 2608.6,368.3 2583.8,346.9 2558.7,325.4 2534.3,305.0 2509.6,285.3 2484.9,266.5 2460.3,248.7 2436.0,232.0 2412.3,216.5 2389.4,202.3 2367.8,188.9 2347.6,176.8 2328.5,166.4 2310.8,157.6 2294.7,150.6 2280.2,145.3 2267.4,141.9 2256.6,140.3 2247.8,140.5 2241.0,142.5 2236.4,146.2 2234.2,151.4 2234.3,158.2 2236.6,166.5 2241.2,176.3 2248.0,187.4 2257.0,199.8 2268.1,213.4 2281.4,228.0 2296.6,243.5 2313.7,259.8 2332.3,277.0 2352.1,295.3 2373.3,314.0 2395.8,333.0 2419.5,352.0 2444.1,371.0 2469.6,389.6 2495.6,407.9 2522.8,426.6 2549.9,445.0 2576.6,463.1 2602.7,480.7 2628.0,497.7 2652.5,513.8 2676.0,528.9 2698.2,542.9 2719.2,555.5 2738.7,566.7 2756.5,576.4 2772.6,584.6 2786.8,591.1 2799.0,595.9 2809.1,598.9 2817.1,600.2 2822.9,599.8Z" fill="#dfecf7"/>
<path d="M2820.0,592.7 2821.3,588.6 2820.4,582.9 2817.2,575.6 2811.8,566.7 2804.2,556.3 2794.5,544.4 2782.8,531.2 2769.1,516.7 2753.6,501.1 2736.4,484.5 2717.6,466.9 2697.4,448.6 2675.9,429.5 2653.4,409.8 2630.2,389.6 2606.3,368.9 2582.0,348.0 2557.4,327.1 2533.7,307.4 2509.8,288.3 2485.9,270.1 2462.1,252.8 2438.6,236.7 2415.7,221.7 2393.5,207.8 2372.4,195.1 2352.8,183.4 2334.4,173.2 2317.3,164.7 2301.7,157.8 2287.7,152.7 2275.4,149.3 2265.0,147.7 2256.5,147.8 2250.0,149.7 2245.6,153.2 2243.5,158.2 2243.6,164.6 2245.9,172.6 2250.4,182.1 2257.0,192.8 2265.8,204.8 2276.6,217.8 2289.4,231.9 2304.2,246.9 2320.8,262.7 2338.6,279.5 2357.9,297.2 2378.4,315.3 2400.2,333.7 2423.1,352.1 2447.0,370.5 2471.6,388.6 2496.8,406.3 2523.4,424.6 2549.9,442.7 2576.0,460.4 2601.5,477.7 2626.3,494.3 2650.2,510.2 2673.2,525.0 2695.0,538.6 2715.4,551.0 2734.4,562.1 2751.9,571.6 2767.6,579.6 2781.4,586.0 2793.3,590.8 2803.2,593.8 2811.0,595.2 2816.6,594.8Z" fill="#dceaf6"/>
<path d="M2814.2,588.2 2815.4,584.3 2814.4,578.8 2811.3,571.7 2806.0,563.0 2798.5,552.8 2789.0,541.2 2777.4,528.3 2764.0,514.2 2748.8,498.9 2731.9,482.7 2713.4,465.5 2693.6,447.5 2672.5,428.8 2650.5,409.5 2627.6,389.8 2604.2,369.6 2580.4,349.1 2556.3,328.6 2533.2,309.5 2510.0,291.0 2486.8,273.4 2463.7,256.6 2440.9,240.9 2418.7,226.3 2397.2,212.9 2376.7,200.7 2357.6,189.3 2339.8,179.4 2323.2,171.1 2308.1,164.4 2294.5,159.4 2282.7,156.0 2272.6,154.4 2264.4,154.5 2258.1,156.2 2253.9,159.6 2251.9,164.3 2252.1,170.6 2254.3,178.3 2258.7,187.3 2265.2,197.7 2273.7,209.3 2284.3,221.9 2296.8,235.6 2311.1,250.1 2327.2,265.4 2344.4,281.9 2363.1,299.0 2383.1,316.5 2404.2,334.4 2426.5,352.2 2449.6,370.0 2473.5,387.6 2497.9,404.9 2523.9,422.9 2549.8,440.6 2575.4,458.0 2600.4,475.0 2624.7,491.3 2648.2,506.8 2670.6,521.4 2692.0,534.8 2712.0,547.0 2730.6,557.8 2747.7,567.2 2763.0,575.1 2776.6,581.5 2788.2,586.2 2797.9,589.2 2805.4,590.6 2810.9,590.2Z" fill="#d9e8f5"/>
<path d="M2808.8,584.1 2810.0,580.4 2809.0,575.0 2805.9,568.0 2800.6,559.5 2793.2,549.6 2783.9,538.3 2772.5,525.7 2759.3,511.8 2744.3,496.9 2727.7,481.0 2709.6,464.1 2690.1,446.5 2669.4,428.2 2647.8,409.3 2625.3,389.9 2602.3,370.1 2578.9,350.1 2555.2,330.0 2532.8,311.5 2510.2,293.5 2487.7,276.4 2465.2,260.1 2443.1,244.8 2421.5,230.6 2400.6,217.5 2380.7,205.7 2362.1,194.7 2344.7,185.1 2328.7,177.0 2314.0,170.4 2300.8,165.5 2289.4,162.2 2279.6,160.6 2271.7,160.6 2265.6,162.2 2261.6,165.5 2259.7,170.0 2259.9,176.0 2262.1,183.4 2266.4,192.2 2272.7,202.3 2281.1,213.5 2291.3,225.7 2303.5,239.0 2317.4,253.1 2333.0,268.0 2349.7,284.0 2367.9,300.7 2387.3,317.7 2407.9,335.0 2429.5,352.4 2452.0,369.7 2475.2,386.8 2498.9,403.6 2524.4,421.3 2549.8,438.7 2574.9,455.8 2599.4,472.5 2623.2,488.5 2646.3,503.8 2668.3,518.1 2689.2,531.3 2708.8,543.3 2727.1,554.0 2743.8,563.2 2758.8,571.0 2772.1,577.3 2783.5,581.9 2792.9,585.0 2800.3,586.3 2805.6,586.0Z" fill="#d6e6f4"/>
<path d="M2803.8,580.3 2805.0,576.6 2803.9,571.4 2800.8,564.6 2795.6,556.3 2788.4,546.6 2779.1,535.5 2767.9,523.2 2754.9,509.6 2740.2,495.0 2723.8,479.4 2706.0,462.8 2686.8,445.6 2666.5,427.6 2645.2,409.1 2623.2,390.0 2600.6,370.6 2577.5,350.9 2554.2,331.3 2532.4,313.3 2510.4,295.8 2488.5,279.1 2466.6,263.3 2445.1,248.4 2424.1,234.6 2403.8,221.8 2384.4,210.3 2366.2,199.7 2349.4,190.3 2333.7,182.4 2319.5,176.0 2306.7,171.2 2295.6,168.0 2286.1,166.3 2278.4,166.3 2272.6,167.8 2268.7,170.9 2266.9,175.3 2267.1,181.1 2269.4,188.3 2273.6,196.8 2279.7,206.5 2287.9,217.4 2297.9,229.3 2309.7,242.1 2323.3,255.8 2338.3,270.5 2354.7,286.1 2372.4,302.2 2391.3,318.8 2411.3,335.6 2432.3,352.5 2454.2,369.3 2476.8,386.0 2499.8,402.4 2524.8,419.8 2549.8,437.0 2574.4,453.8 2598.5,470.2 2621.9,486.0 2644.5,501.0 2666.1,515.0 2686.6,528.0 2705.9,539.8 2723.8,550.4 2740.2,559.5 2754.9,567.2 2767.9,573.4 2779.1,578.0 2788.3,581.0 2795.5,582.4 2800.7,582.2Z" fill="#d3e4f3"/>
<path d="M2799.2,576.7 2800.2,573.2 2799.2,568.1 2796.1,561.4 2790.9,553.3 2783.8,543.8 2774.7,533.0 2763.6,520.9 2750.8,507.6 2736.3,493.2 2720.2,477.9 2702.7,461.7 2683.8,444.7 2663.8,427.0 2642.9,408.8 2621.2,390.1 2598.9,371.0 2576.3,351.7 2553.3,332.4 2532.0,315.0 2510.6,298.0 2489.2,281.7 2468.0,266.3 2447.0,251.8 2426.6,238.3 2406.8,225.9 2387.9,214.6 2370.1,204.4 2353.7,195.2 2338.5,187.5 2324.7,181.3 2312.3,176.5 2301.4,173.3 2292.3,171.7 2284.8,171.6 2279.2,173.1 2275.4,176.0 2273.7,180.2 2273.9,185.9 2276.1,192.8 2280.3,201.0 2286.3,210.5 2294.2,221.0 2304.0,232.6 2315.6,245.1 2328.8,258.4 2343.4,272.8 2359.3,288.0 2376.5,303.7 2395.0,319.8 2414.5,336.2 2435.0,352.6 2456.3,369.0 2478.3,385.3 2500.7,401.3 2525.2,418.4 2549.7,435.3 2573.9,451.9 2597.6,468.0 2620.6,483.6 2642.8,498.3 2664.0,512.2 2684.2,525.0 2703.1,536.6 2720.7,547.0 2736.8,556.0 2751.2,563.6 2764.0,569.7 2774.9,574.3 2784.0,577.3 2791.1,578.7 2796.1,578.5Z" fill="#d0e2f2"/>
<path d="M2794.7,573.3 2795.8,569.9 2794.7,564.9 2791.6,558.4 2786.5,550.5 2779.5,541.2 2770.5,530.5 2759.6,518.6 2747.0,505.6 2732.7,491.5 2716.8,476.4 2699.5,460.5 2681.0,443.8 2661.3,426.5 2640.7,408.6 2619.3,390.2 2597.4,371.5 2575.1,352.5 2552.5,333.5 2531.7,316.5 2510.8,300.0 2490.0,284.2 2469.2,269.1 2448.8,255.0 2428.9,241.8 2409.7,229.7 2391.3,218.6 2373.9,208.8 2357.9,199.9 2343.1,192.3 2329.6,186.2 2317.5,181.5 2307.0,178.4 2298.1,176.8 2290.8,176.7 2285.4,178.0 2281.7,180.9 2280.1,184.9 2280.4,190.4 2282.5,197.1 2286.6,205.1 2292.5,214.3 2300.2,224.5 2309.8,235.8 2321.1,247.9 2334.0,261.0 2348.1,275.0 2363.7,289.8 2380.5,305.1 2398.5,320.8 2417.5,336.7 2437.5,352.8 2458.2,368.8 2479.6,384.6 2501.5,400.2 2525.6,417.2 2549.7,433.8 2573.5,450.1 2596.7,466.0 2619.4,481.3 2641.2,495.9 2662.1,509.5 2681.9,522.1 2700.5,533.6 2717.7,543.8 2733.5,552.7 2747.8,560.2 2760.3,566.3 2771.0,570.8 2779.9,573.8 2786.9,575.2 2791.8,575.1Z" fill="#cde0f1"/>
<path d="M2790.6,570.1 2791.5,566.8 2790.5,561.9 2787.4,555.6 2782.4,547.8 2775.4,538.7 2766.5,528.2 2755.8,516.5 2743.3,503.7 2729.2,489.9 2713.6,475.1 2696.6,459.4 2678.3,443.0 2658.9,426.0 2638.6,408.4 2617.5,390.3 2595.9,371.9 2574.0,353.2 2551.7,334.6 2531.4,318.0 2511.0,301.9 2490.7,286.4 2470.4,271.8 2450.5,258.0 2431.1,245.1 2412.4,233.2 2394.4,222.5 2377.5,212.8 2361.8,204.2 2347.4,196.8 2334.2,190.9 2322.5,186.3 2312.2,183.2 2303.6,181.6 2296.5,181.4 2291.2,182.7 2287.7,185.5 2286.2,189.4 2286.4,194.6 2288.6,201.2 2292.5,208.9 2298.4,217.9 2305.9,227.8 2315.3,238.8 2326.3,250.6 2338.8,263.4 2352.6,277.1 2367.8,291.5 2384.2,306.4 2401.7,321.7 2420.3,337.3 2439.8,352.9 2460.1,368.5 2480.9,384.0 2502.2,399.3 2526.0,415.9 2549.7,432.4 2573.0,448.5 2595.9,464.1 2618.2,479.2 2639.7,493.5 2660.2,506.9 2679.7,519.4 2698.0,530.7 2715.0,540.8 2730.5,549.6 2744.5,557.0 2756.8,563.0 2767.3,567.5 2776.0,570.5 2782.8,571.9 2787.7,571.8Z" fill="#cadef0"/>
<path d="M2786.6,567.1 2787.5,563.8 2786.4,559.1 2783.4,552.8 2778.4,545.2 2771.5,536.3 2762.7,526.0 2752.1,514.5 2739.8,502.0 2725.9,488.3 2710.5,473.8 2693.7,458.4 2675.7,442.2 2656.6,425.5 2636.6,408.1 2615.8,390.3 2594.6,372.2 2572.9,353.9 2550.9,335.6 2531.1,319.4 2511.2,303.7 2491.3,288.6 2471.6,274.3 2452.2,260.8 2433.3,248.2 2415.0,236.7 2397.5,226.1 2380.9,216.7 2365.6,208.4 2351.5,201.2 2338.7,195.3 2327.3,190.8 2317.3,187.8 2308.8,186.2 2302.0,186.0 2296.9,187.2 2293.4,189.8 2291.9,193.6 2292.2,198.7 2294.3,205.1 2298.3,212.6 2303.9,221.3 2311.4,231.0 2320.5,241.7 2331.3,253.2 2343.4,265.8 2356.9,279.2 2371.7,293.2 2387.7,307.7 2404.9,322.6 2423.0,337.8 2442.0,353.1 2461.8,368.3 2482.2,383.4 2502.9,398.3 2526.3,414.8 2549.6,431.0 2572.6,446.9 2595.2,462.3 2617.1,477.1 2638.2,491.3 2658.4,504.5 2677.6,516.8 2695.6,528.0 2712.3,537.9 2727.6,546.6 2741.3,553.9 2753.4,559.9 2763.8,564.3 2772.3,567.3 2779.0,568.8 2783.8,568.7Z" fill="#c7dcef"/>
<path d="M2782.7,564.1 2783.6,561.0 2782.5,556.3 2779.5,550.2 2774.6,542.8 2767.7,534.0 2759.1,523.9 2748.6,512.6 2736.5,500.2 2722.8,486.8 2707.6,472.5 2691.0,457.4 2673.2,441.5 2654.4,425.0 2634.7,407.9 2614.2,390.4 2593.2,372.6 2571.9,354.5 2550.2,336.5 2530.9,320.7 2511.4,305.4 2492.0,290.7 2472.7,276.7 2453.8,263.5 2435.3,251.2 2417.5,239.9 2400.4,229.6 2384.3,220.4 2369.2,212.4 2355.5,205.3 2343.0,199.5 2331.8,195.2 2322.1,192.1 2313.9,190.5 2307.2,190.3 2302.2,191.5 2298.9,194.0 2297.5,197.7 2297.8,202.6 2299.9,208.8 2303.7,216.2 2309.3,224.6 2316.6,234.1 2325.5,244.5 2336.0,255.7 2347.8,268.1 2361.0,281.1 2375.5,294.8 2391.1,309.0 2407.9,323.5 2425.6,338.3 2444.2,353.2 2463.5,368.1 2483.3,382.9 2503.6,397.5 2526.6,413.7 2549.6,429.7 2572.2,445.3 2594.4,460.5 2616.0,475.2 2636.8,489.1 2656.7,502.2 2675.6,514.3 2693.3,525.3 2709.7,535.2 2724.8,543.8 2738.3,551.0 2750.2,556.9 2760.4,561.3 2768.8,564.3 2775.3,565.7 2780.0,565.7Z" fill="#c3daee"/>
<path d="M2779.0,561.3 2779.9,558.2 2778.8,553.7 2775.8,547.7 2770.9,540.4 2764.1,531.7 2755.6,521.8 2745.2,510.8 2733.3,498.6 2719.7,485.4 2704.7,471.3 2688.4,456.4 2670.9,440.8 2652.3,424.5 2632.8,407.7 2612.7,390.5 2592.0,372.9 2570.9,355.1 2549.5,337.4 2530.6,322.0 2511.6,307.1 2492.7,292.7 2473.8,279.0 2455.3,266.1 2437.3,254.1 2419.9,243.1 2403.2,233.0 2387.4,224.0 2372.7,216.1 2359.3,209.3 2347.1,203.6 2336.2,199.3 2326.7,196.3 2318.7,194.7 2312.3,194.5 2307.4,195.6 2304.2,198.1 2302.8,201.6 2303.1,206.4 2305.2,212.4 2309.0,219.6 2314.4,227.8 2321.5,237.0 2330.3,247.2 2340.5,258.2 2352.1,270.2 2365.0,283.0 2379.1,296.3 2394.4,310.2 2410.8,324.4 2428.1,338.8 2446.2,353.4 2465.1,367.9 2484.5,382.4 2504.2,396.6 2526.9,412.7 2549.5,428.4 2571.8,443.9 2593.7,458.9 2614.9,473.3 2635.4,487.1 2655.1,500.0 2673.7,511.9 2691.1,522.8 2707.3,532.5 2722.1,541.0 2735.4,548.2 2747.1,554.0 2757.1,558.4 2765.4,561.3 2771.8,562.8 2776.4,562.8Z" fill="#bed8ec"/>
<path d="M2775.5,558.6 2776.3,555.6 2775.2,551.1 2772.2,545.3 2767.4,538.1 2760.7,529.6 2752.2,519.8 2742.0,509.0 2730.2,497.0 2716.8,484.0 2702.0,470.1 2685.9,455.4 2668.6,440.0 2650.3,424.0 2631.1,407.5 2611.2,390.5 2590.8,373.2 2570.0,355.7 2548.9,338.2 2530.4,323.2 2511.8,308.6 2493.3,294.6 2474.9,281.2 2456.8,268.6 2439.2,256.9 2422.2,246.1 2405.9,236.2 2390.5,227.4 2376.2,219.7 2363.0,213.1 2351.1,207.5 2340.5,203.3 2331.2,200.4 2323.4,198.8 2317.1,198.5 2312.4,199.6 2309.3,202.0 2308.0,205.4 2308.3,210.1 2310.3,215.9 2314.0,222.9 2319.4,230.9 2326.4,239.9 2334.9,249.8 2344.8,260.6 2356.1,272.4 2368.7,284.8 2382.6,297.8 2397.5,311.3 2413.5,325.2 2430.5,339.3 2448.2,353.5 2466.6,367.8 2485.5,381.9 2504.8,395.8 2527.2,411.7 2549.4,427.2 2571.4,442.5 2593.0,457.3 2613.9,471.5 2634.1,485.1 2653.5,497.8 2671.8,509.6 2689.0,520.4 2704.9,530.0 2719.5,538.4 2732.6,545.5 2744.1,551.2 2754.0,555.6 2762.1,558.5 2768.4,560.0 2772.9,560.0Z" fill="#bad6eb"/>
<path d="M2772.0,556.0 2772.8,553.0 2771.7,548.7 2768.7,542.9 2763.9,535.8 2757.3,527.5 2748.9,517.9 2738.9,507.2 2727.2,495.4 2714.0,482.7 2699.4,469.0 2683.5,454.5 2666.4,439.4 2648.3,423.6 2629.4,407.3 2609.8,390.5 2589.6,373.5 2569.1,356.3 2548.3,339.1 2530.2,324.4 2512.0,310.2 2493.9,296.4 2475.9,283.4 2458.3,271.1 2441.0,259.6 2424.4,249.0 2408.5,239.4 2393.5,230.7 2379.5,223.2 2366.6,216.7 2354.9,211.3 2344.6,207.2 2335.6,204.3 2328.0,202.7 2321.8,202.5 2317.2,203.5 2314.2,205.7 2312.9,209.1 2313.3,213.6 2315.3,219.3 2318.9,226.1 2324.2,233.9 2331.0,242.6 2339.4,252.3 2349.0,263.0 2360.1,274.4 2372.4,286.5 2386.0,299.3 2400.6,312.5 2416.2,326.0 2432.8,339.8 2450.1,353.7 2468.1,367.6 2486.6,381.4 2505.4,395.1 2527.4,410.7 2549.4,426.1 2571.1,441.1 2592.3,455.7 2612.9,469.8 2632.9,483.2 2651.9,495.8 2670.0,507.4 2686.9,518.1 2702.6,527.6 2717.0,535.8 2729.9,542.9 2741.2,548.6 2750.9,552.9 2758.9,555.8 2765.1,557.3 2769.5,557.4Z" fill="#b5d4e9"/>
<path d="M2767.5,552.5 2768.3,549.6 2767.2,545.4 2764.3,539.8 2759.5,532.8 2753.0,524.6 2744.8,515.3 2734.9,504.8 2723.4,493.2 2710.5,480.7 2696.1,467.3 2680.5,453.1 2663.7,438.2 2646.0,422.7 2627.4,406.7 2608.1,390.3 2588.3,373.5 2568.2,356.6 2547.7,339.8 2530.0,325.5 2512.3,311.5 2494.5,298.1 2477.0,285.4 2459.7,273.3 2442.9,262.1 2426.7,251.7 2411.1,242.3 2396.5,233.9 2382.7,226.5 2370.1,220.2 2358.7,215.0 2348.6,210.9 2339.8,208.1 2332.4,206.5 2326.4,206.2 2321.9,207.2 2319.0,209.4 2317.8,212.6 2318.1,217.0 2320.1,222.6 2323.7,229.2 2328.8,236.8 2335.5,245.4 2343.6,254.9 2353.1,265.3 2363.9,276.5 2375.9,288.3 2389.2,300.7 2403.5,313.6 2418.8,326.9 2434.9,340.3 2451.9,353.9 2469.5,367.5 2487.5,381.0 2505.9,394.4 2527.5,409.7 2549.1,424.8 2570.4,439.6 2591.2,454.0 2611.5,467.8 2631.0,481.0 2649.7,493.3 2667.4,504.8 2684.0,515.2 2699.5,524.5 2713.5,532.7 2726.2,539.6 2737.3,545.2 2746.8,549.5 2754.7,552.3 2760.8,553.8 2765.1,553.9Z" fill="#b0d2e7"/>
<path d="M2762.1,548.4 2762.9,545.6 2761.8,541.4 2758.9,535.9 2754.3,529.1 2747.9,521.1 2739.9,512.0 2730.2,501.7 2719.0,490.4 2706.3,478.1 2692.3,465.0 2677.0,451.1 2660.7,436.6 2643.3,421.4 2625.1,405.8 2606.3,389.7 2586.9,373.4 2567.2,356.9 2547.2,340.4 2529.9,326.4 2512.6,312.8 2495.2,299.7 2478.1,287.3 2461.2,275.5 2444.7,264.5 2428.9,254.4 2413.7,245.2 2399.4,236.9 2386.0,229.7 2373.6,223.5 2362.4,218.5 2352.6,214.5 2344.0,211.7 2336.7,210.2 2330.9,209.9 2326.5,210.8 2323.6,212.9 2322.5,216.1 2322.8,220.4 2324.7,225.8 2328.2,232.3 2333.3,239.7 2339.8,248.0 2347.7,257.4 2357.0,267.6 2367.5,278.5 2379.3,290.1 2392.3,302.2 2406.3,314.8 2421.2,327.8 2437.0,340.9 2453.6,354.2 2470.7,367.5 2488.4,380.7 2506.4,393.8 2527.5,408.8 2548.5,423.6 2569.3,438.0 2589.7,452.1 2609.5,465.6 2628.6,478.4 2646.9,490.5 2664.2,501.7 2680.5,511.9 2695.6,521.0 2709.3,529.0 2721.7,535.7 2732.6,541.2 2741.9,545.4 2749.5,548.2 2755.5,549.6 2759.7,549.7Z" fill="#abd0e6"/>
<path d="M2756.8,544.3 2757.6,541.6 2756.5,537.5 2753.7,532.1 2749.2,525.5 2743.0,517.7 2735.1,508.7 2725.7,498.7 2714.7,487.6 2702.3,475.6 2688.6,462.8 2673.7,449.3 2657.7,435.0 2640.7,420.2 2622.9,404.9 2604.5,389.2 2585.6,373.2 2566.3,357.1 2546.8,341.0 2529.8,327.4 2512.9,314.1 2495.9,301.3 2479.1,289.1 2462.6,277.6 2446.6,266.8 2431.0,256.9 2416.2,247.9 2402.2,239.9 2389.1,232.8 2377.0,226.8 2366.1,221.8 2356.4,218.0 2348.0,215.3 2340.9,213.7 2335.2,213.4 2331.0,214.3 2328.2,216.4 2327.0,219.5 2327.4,223.7 2329.3,229.0 2332.7,235.3 2337.6,242.5 2344.0,250.7 2351.7,259.9 2360.8,269.8 2371.1,280.5 2382.6,291.8 2395.3,303.7 2409.0,316.0 2423.6,328.6 2439.0,341.5 2455.2,354.5 2472.0,367.5 2489.3,380.4 2506.8,393.2 2527.5,407.9 2548.0,422.4 2568.4,436.5 2588.3,450.2 2607.6,463.4 2626.3,476.0 2644.2,487.8 2661.1,498.7 2677.0,508.7 2691.8,517.6 2705.2,525.4 2717.3,532.0 2727.9,537.3 2737.0,541.4 2744.5,544.2 2750.3,545.6 2754.5,545.6Z" fill="#a6cee4"/>
<path d="M2751.7,540.4 2752.4,537.7 2751.4,533.7 2748.6,528.5 2744.2,522.0 2738.1,514.3 2730.4,505.6 2721.2,495.7 2710.5,484.9 2698.4,473.2 2685.0,460.7 2670.4,447.4 2654.7,433.5 2638.2,419.0 2620.8,404.0 2602.8,388.7 2584.3,373.1 2565.4,357.3 2546.3,341.6 2529.8,328.3 2513.1,315.3 2496.6,302.8 2480.2,290.9 2464.0,279.6 2448.3,269.1 2433.2,259.4 2418.7,250.6 2405.0,242.7 2392.2,235.8 2380.4,229.9 2369.7,225.1 2360.2,221.4 2352.0,218.7 2345.1,217.2 2339.5,216.9 2335.3,217.8 2332.6,219.8 2331.5,222.8 2331.9,226.9 2333.7,232.0 2337.1,238.2 2341.9,245.3 2348.1,253.3 2355.6,262.3 2364.5,272.0 2374.6,282.4 2385.9,293.5 2398.2,305.1 2411.6,317.1 2425.9,329.5 2441.0,342.1 2456.8,354.8 2473.2,367.5 2490.1,380.1 2507.3,392.7 2527.4,407.0 2547.5,421.2 2567.4,435.0 2586.9,448.4 2605.8,461.3 2624.1,473.6 2641.5,485.1 2658.1,495.8 2673.6,505.5 2688.0,514.3 2701.2,521.9 2713.0,528.3 2723.4,533.5 2732.3,537.5 2739.6,540.2 2745.3,541.6 2749.3,541.7Z" fill="#a1cbe2"/>
<path d="M2746.6,536.5 2747.3,533.9 2746.3,530.0 2743.6,524.9 2739.3,518.5 2733.4,511.0 2725.9,502.5 2716.8,492.9 2706.3,482.3 2694.5,470.8 2681.4,458.6 2667.2,445.6 2651.9,432.0 2635.7,417.8 2618.7,403.2 2601.1,388.2 2583.0,373.0 2564.6,357.6 2545.9,342.2 2529.7,329.2 2513.4,316.5 2497.2,304.3 2481.2,292.6 2465.4,281.6 2450.1,271.4 2435.2,261.9 2421.1,253.3 2407.7,245.6 2395.2,238.8 2383.6,233.1 2373.2,228.3 2363.9,224.7 2355.8,222.1 2349.1,220.6 2343.7,220.3 2339.6,221.2 2337.0,223.1 2335.9,226.1 2336.2,230.0 2338.1,235.1 2341.4,241.1 2346.0,248.0 2352.1,255.9 2359.5,264.6 2368.1,274.1 2378.0,284.3 2389.0,295.2 2401.1,306.5 2414.2,318.3 2428.2,330.3 2442.9,342.6 2458.4,355.0 2474.4,367.5 2490.9,379.8 2507.7,392.1 2527.4,406.2 2547.0,420.0 2566.4,433.5 2585.5,446.6 2604.0,459.2 2621.8,471.2 2638.9,482.5 2655.1,492.9 2670.3,502.5 2684.4,511.0 2697.3,518.4 2708.8,524.7 2719.0,529.8 2727.7,533.7 2734.8,536.3 2740.4,537.7 2744.3,537.8Z" fill="#9cc9e1"/>
<path d="M2741.6,532.7 2742.3,530.1 2741.3,526.3 2738.7,521.3 2734.5,515.1 2728.7,507.8 2721.4,499.4 2712.5,490.0 2702.3,479.7 2690.7,468.5 2677.9,456.5 2664.0,443.8 2649.1,430.5 2633.2,416.7 2616.6,402.4 2599.4,387.7 2581.7,372.8 2563.7,357.8 2545.4,342.8 2529.6,330.1 2513.7,317.7 2497.8,305.8 2482.2,294.4 2466.8,283.6 2451.7,273.6 2437.3,264.3 2423.4,255.9 2410.3,248.3 2398.1,241.7 2386.8,236.1 2376.6,231.5 2367.5,227.9 2359.7,225.4 2353.1,224.0 2347.8,223.7 2343.8,224.5 2341.2,226.4 2340.2,229.2 2340.5,233.1 2342.3,238.0 2345.5,243.9 2350.1,250.7 2356.0,258.4 2363.2,267.0 2371.7,276.2 2381.4,286.2 2392.1,296.8 2403.9,307.9 2416.7,319.4 2430.4,331.2 2444.8,343.2 2459.9,355.3 2475.6,367.5 2491.7,379.6 2508.1,391.6 2527.3,405.3 2546.5,418.8 2565.5,432.1 2584.1,444.9 2602.2,457.2 2619.7,468.9 2636.4,479.9 2652.2,490.1 2667.1,499.4 2680.8,507.8 2693.4,515.0 2704.7,521.2 2714.6,526.2 2723.1,530.0 2730.1,532.6 2735.6,533.9 2739.4,533.9Z" fill="#95c5df"/>
<path d="M2736.8,529.0 2737.4,526.5 2736.5,522.7 2733.9,517.8 2729.8,511.8 2724.1,504.6 2716.9,496.4 2708.3,487.3 2698.3,477.2 2687.0,466.2 2674.5,454.5 2660.9,442.1 2646.3,429.1 2630.8,415.6 2614.6,401.6 2597.8,387.3 2580.5,372.7 2562.9,358.0 2545.0,343.4 2529.5,330.9 2514.0,318.9 2498.5,307.2 2483.1,296.1 2468.1,285.6 2453.4,275.7 2439.3,266.7 2425.7,258.4 2412.9,251.1 2401.0,244.6 2390.0,239.1 2380.0,234.6 2371.1,231.1 2363.4,228.7 2357.0,227.3 2351.8,227.0 2347.9,227.7 2345.4,229.6 2344.4,232.4 2344.8,236.2 2346.5,240.9 2349.6,246.7 2354.1,253.4 2359.9,260.9 2366.9,269.2 2375.2,278.3 2384.6,288.1 2395.2,298.4 2406.7,309.2 2419.2,320.4 2432.6,332.0 2446.7,343.7 2461.5,355.6 2476.8,367.5 2492.5,379.3 2508.5,391.0 2527.3,404.5 2546.1,417.7 2564.6,430.6 2582.8,443.2 2600.5,455.2 2617.5,466.7 2633.9,477.4 2649.4,487.4 2663.9,496.5 2677.3,504.6 2689.6,511.7 2700.7,517.7 2710.4,522.6 2718.7,526.3 2725.5,528.8 2730.8,530.1 2734.6,530.2Z" fill="#8fc2de"/>
<path d="M2732.0,525.3 2732.6,522.8 2731.7,519.2 2729.2,514.4 2725.1,508.5 2719.6,501.5 2712.6,493.5 2704.2,484.5 2694.4,474.7 2683.3,464.0 2671.1,452.5 2657.8,440.4 2643.6,427.7 2628.4,414.4 2612.6,400.8 2596.2,386.8 2579.3,372.6 2562.0,358.2 2544.5,343.9 2529.4,331.8 2514.2,320.0 2499.1,308.6 2484.1,297.7 2469.4,287.5 2455.1,277.9 2441.2,269.0 2428.0,260.9 2415.5,253.7 2403.8,247.4 2393.1,242.0 2383.3,237.6 2374.7,234.2 2367.1,231.8 2360.8,230.5 2355.8,230.2 2352.0,231.0 2349.5,232.8 2348.6,235.5 2348.9,239.2 2350.6,243.8 2353.7,249.4 2358.0,256.0 2363.7,263.3 2370.6,271.5 2378.7,280.3 2387.9,289.9 2398.2,299.9 2409.5,310.5 2421.7,321.5 2434.7,332.8 2448.5,344.2 2463.0,355.8 2477.9,367.5 2493.3,379.0 2508.9,390.5 2527.3,403.7 2545.6,416.6 2563.7,429.2 2581.5,441.5 2598.8,453.2 2615.4,464.4 2631.4,474.9 2646.5,484.7 2660.7,493.5 2673.9,501.5 2685.9,508.4 2696.7,514.3 2706.2,519.1 2714.3,522.7 2721.0,525.2 2726.2,526.4 2729.8,526.5Z" fill="#89bedc"/>
<path d="M2727.2,521.7 2727.8,519.3 2726.9,515.7 2724.5,511.0 2720.6,505.3 2715.1,498.4 2708.3,490.6 2700.1,481.8 2690.5,472.2 2679.7,461.7 2667.8,450.6 2654.8,438.7 2640.9,426.3 2626.1,413.3 2610.6,400.0 2594.6,386.3 2578.1,372.4 2561.2,358.4 2544.1,344.5 2529.3,332.6 2514.5,321.1 2499.7,310.0 2485.1,299.4 2470.7,289.3 2456.7,280.0 2443.2,271.3 2430.3,263.4 2418.1,256.4 2406.7,250.2 2396.1,245.0 2386.6,240.6 2378.1,237.3 2370.8,235.0 2364.6,233.7 2359.7,233.4 2356.0,234.1 2353.6,235.9 2352.6,238.5 2353.0,242.1 2354.7,246.7 2357.6,252.2 2361.9,258.5 2367.4,265.7 2374.2,273.7 2382.1,282.3 2391.1,291.6 2401.1,301.5 2412.2,311.8 2424.1,322.5 2436.9,333.5 2450.3,344.8 2464.4,356.1 2479.0,367.4 2494.0,378.8 2509.3,390.0 2527.2,402.8 2545.1,415.5 2562.8,427.8 2580.2,439.8 2597.1,451.3 2613.4,462.2 2629.0,472.5 2643.8,482.0 2657.6,490.7 2670.5,498.4 2682.2,505.2 2692.7,510.9 2702.0,515.6 2709.9,519.1 2716.5,521.5 2721.6,522.8 2725.1,522.8Z" fill="#82bbdb"/>
<path d="M2722.5,518.1 2723.2,515.7 2722.3,512.3 2719.9,507.7 2716.0,502.1 2710.8,495.4 2704.1,487.7 2696.0,479.2 2686.7,469.8 2676.2,459.6 2664.5,448.6 2651.8,437.0 2638.2,424.9 2623.8,412.3 2608.7,399.2 2593.0,385.9 2576.9,372.3 2560.4,358.6 2543.7,345.0 2529.2,333.5 2514.7,322.2 2500.3,311.4 2486.0,301.0 2472.0,291.2 2458.3,282.0 2445.1,273.6 2432.5,265.9 2420.6,259.0 2409.4,253.0 2399.2,247.8 2389.9,243.6 2381.6,240.4 2374.4,238.1 2368.4,236.8 2363.6,236.5 2360.0,237.2 2357.6,238.9 2356.7,241.5 2357.0,245.0 2358.7,249.5 2361.6,254.9 2365.7,261.1 2371.1,268.1 2377.7,275.9 2385.4,284.3 2394.2,293.4 2404.1,303.0 2414.8,313.1 2426.5,323.6 2439.0,334.3 2452.1,345.3 2465.9,356.3 2480.1,367.4 2494.8,378.5 2509.7,389.5 2527.2,402.0 2544.7,414.4 2562.0,426.5 2578.9,438.1 2595.4,449.4 2611.3,460.0 2626.6,470.1 2641.0,479.4 2654.5,487.8 2667.1,495.4 2678.6,502.0 2688.9,507.6 2697.9,512.2 2705.7,515.6 2712.0,518.0 2717.0,519.2 2720.5,519.2Z" fill="#7cb7da"/>
<path d="M2717.9,514.6 2718.5,512.3 2717.6,508.9 2715.3,504.4 2711.6,498.9 2706.4,492.4 2699.9,484.9 2692.0,476.5 2682.9,467.3 2672.6,457.4 2661.3,446.7 2648.9,435.4 2635.6,423.5 2621.5,411.2 2606.8,398.5 2591.4,385.4 2575.7,372.2 2559.6,358.9 2543.3,345.6 2529.2,334.3 2515.0,323.3 2500.9,312.7 2486.9,302.6 2473.2,293.0 2459.9,284.1 2447.0,275.8 2434.7,268.3 2423.0,261.6 2412.2,255.7 2402.2,250.7 2393.1,246.6 2385.0,243.4 2378.0,241.1 2372.1,239.9 2367.4,239.6 2363.9,240.3 2361.6,242.0 2360.7,244.5 2361.0,247.9 2362.6,252.3 2365.5,257.5 2369.5,263.6 2374.8,270.4 2381.2,278.0 2388.8,286.3 2397.4,295.2 2407.0,304.5 2417.5,314.4 2428.9,324.6 2441.0,335.1 2453.9,345.8 2467.3,356.6 2481.2,367.4 2495.5,378.2 2510.1,388.9 2527.2,401.2 2544.2,413.3 2561.1,425.1 2577.7,436.5 2593.8,447.5 2609.3,457.9 2624.2,467.7 2638.3,476.7 2651.5,485.0 2663.8,492.4 2675.0,498.8 2685.0,504.3 2693.9,508.8 2701.4,512.1 2707.7,514.4 2712.5,515.6 2715.9,515.6Z" fill="#75b4d8"/>
<path d="M2713.3,511.0 2713.9,508.8 2713.1,505.5 2710.8,501.1 2707.1,495.7 2702.1,489.4 2695.7,482.1 2688.1,473.9 2679.2,465.0 2669.1,455.2 2658.0,444.8 2646.0,433.8 2633.0,422.2 2619.2,410.1 2604.8,397.7 2589.9,385.0 2574.5,372.1 2558.8,359.1 2542.9,346.1 2529.1,335.1 2515.3,324.4 2501.5,314.1 2487.8,304.2 2474.5,294.8 2461.4,286.1 2448.9,278.0 2436.9,270.7 2425.5,264.1 2414.9,258.4 2405.1,253.5 2396.3,249.5 2388.4,246.4 2381.5,244.2 2375.8,243.0 2371.2,242.7 2367.8,243.4 2365.6,245.0 2364.7,247.5 2365.0,250.8 2366.5,255.1 2369.3,260.2 2373.3,266.1 2378.4,272.8 2384.7,280.2 2392.1,288.2 2400.5,296.9 2409.8,306.0 2420.1,315.6 2431.2,325.6 2443.1,335.9 2455.6,346.3 2468.7,356.8 2482.3,367.4 2496.3,378.0 2510.5,388.4 2527.2,400.4 2543.8,412.2 2560.2,423.7 2576.4,434.9 2592.1,445.6 2607.3,455.8 2621.8,465.3 2635.6,474.1 2648.5,482.2 2660.5,489.4 2671.4,495.7 2681.2,501.1 2689.8,505.4 2697.2,508.7 2703.3,510.9 2708.0,512.1 2711.4,512.1Z" fill="#6fb0d7"/>
<path d="M2708.8,507.6 2709.3,505.4 2708.5,502.1 2706.3,497.9 2702.7,492.6 2697.8,486.4 2691.6,479.3 2684.1,471.4 2675.5,462.6 2665.7,453.1 2654.8,442.9 2643.1,432.1 2630.4,420.8 2617.0,409.1 2603.0,397.0 2588.4,384.5 2573.4,371.9 2558.0,359.3 2542.5,346.6 2529.0,335.9 2515.5,325.5 2502.1,315.4 2488.8,305.8 2475.7,296.6 2463.0,288.1 2450.7,280.3 2439.0,273.1 2427.9,266.7 2417.6,261.1 2408.1,256.3 2399.4,252.4 2391.7,249.3 2385.1,247.2 2379.5,246.0 2375.0,245.7 2371.6,246.4 2369.5,248.0 2368.6,250.4 2368.9,253.7 2370.4,257.8 2373.1,262.8 2377.0,268.6 2382.0,275.1 2388.2,282.3 2395.3,290.2 2403.5,298.6 2412.7,307.5 2422.7,316.9 2433.5,326.6 2445.1,336.6 2457.4,346.8 2470.2,357.1 2483.4,367.4 2497.0,377.7 2510.9,387.9 2527.1,399.7 2543.3,411.2 2559.4,422.4 2575.2,433.3 2590.5,443.7 2605.3,453.6 2619.5,463.0 2632.9,471.6 2645.5,479.4 2657.2,486.5 2667.9,492.6 2677.4,497.8 2685.9,502.1 2693.1,505.3 2699.0,507.4 2703.6,508.5 2706.9,508.6Z" fill="#69add5"/>
<path d="M2704.2,504.1 2704.8,502.0 2704.0,498.8 2701.8,494.7 2698.4,489.5 2693.6,483.5 2687.5,476.6 2680.2,468.8 2671.8,460.2 2662.2,451.0 2651.7,441.0 2640.2,430.5 2627.8,419.5 2614.8,408.0 2601.1,396.2 2586.8,384.1 2572.2,371.8 2557.2,359.5 2542.1,347.1 2528.9,336.7 2515.8,326.5 2502.6,316.7 2489.7,307.3 2476.9,298.4 2464.5,290.1 2452.6,282.4 2441.2,275.5 2430.4,269.2 2420.3,263.7 2411.0,259.1 2402.5,255.2 2395.1,252.3 2388.5,250.2 2383.1,249.0 2378.7,248.8 2375.5,249.4 2373.3,251.0 2372.5,253.3 2372.8,256.5 2374.3,260.5 2376.9,265.4 2380.7,271.0 2385.6,277.4 2391.6,284.4 2398.6,292.1 2406.6,300.3 2415.5,309.0 2425.3,318.1 2435.9,327.6 2447.2,337.4 2459.1,347.3 2471.6,357.3 2484.5,367.4 2497.8,377.5 2511.2,387.4 2527.1,398.9 2542.9,410.1 2558.6,421.1 2573.9,431.7 2588.9,441.9 2603.3,451.5 2617.2,460.6 2630.3,469.0 2642.5,476.7 2653.9,483.5 2664.3,489.5 2673.7,494.6 2681.9,498.7 2688.9,501.9 2694.7,504.0 2699.2,505.1 2702.4,505.1Z" fill="#64a9d3"/>
<path d="M2699.7,500.7 2700.3,498.6 2699.5,495.5 2697.4,491.4 2694.0,486.5 2689.3,480.6 2683.4,473.8 2676.3,466.2 2668.1,457.9 2658.8,448.8 2648.5,439.2 2637.3,428.9 2625.3,418.2 2612.5,407.0 2599.2,395.5 2585.3,383.7 2571.1,371.7 2556.5,359.7 2541.7,347.7 2528.9,337.5 2516.0,327.6 2503.2,318.0 2490.6,308.9 2478.2,300.2 2466.1,292.1 2454.4,284.6 2443.3,277.8 2432.8,271.7 2422.9,266.4 2413.9,261.8 2405.7,258.1 2398.4,255.2 2392.0,253.2 2386.7,252.0 2382.4,251.8 2379.3,252.4 2377.2,253.9 2376.4,256.2 2376.7,259.3 2378.1,263.2 2380.7,268.0 2384.4,273.5 2389.2,279.7 2395.0,286.5 2401.8,294.0 2409.6,302.0 2418.3,310.5 2427.9,319.4 2438.2,328.6 2449.2,338.1 2460.8,347.8 2473.0,357.6 2485.6,367.4 2498.5,377.2 2511.6,387.0 2527.1,398.1 2542.5,409.1 2557.7,419.8 2572.7,430.1 2587.3,440.0 2601.4,449.4 2614.8,458.3 2627.6,466.5 2639.6,473.9 2650.7,480.6 2660.8,486.5 2670.0,491.4 2678.0,495.4 2684.8,498.5 2690.5,500.5 2694.8,501.6 2697.9,501.6Z" fill="#5fa6d1"/>
<path d="M2695.3,497.2 2695.8,495.2 2695.0,492.2 2693.0,488.3 2689.7,483.4 2685.1,477.6 2679.4,471.1 2672.5,463.7 2664.4,455.5 2655.4,446.7 2645.4,437.3 2634.4,427.3 2622.7,416.9 2610.3,406.0 2597.3,394.7 2583.8,383.3 2569.9,371.6 2555.7,359.9 2541.3,348.2 2528.8,338.3 2516.3,328.7 2503.8,319.3 2491.5,310.4 2479.4,302.0 2467.6,294.1 2456.3,286.8 2445.4,280.2 2435.2,274.2 2425.6,269.0 2416.8,264.6 2408.8,260.9 2401.7,258.1 2395.5,256.2 2390.3,255.0 2386.2,254.8 2383.1,255.4 2381.1,256.9 2380.3,259.1 2380.6,262.1 2382.0,265.9 2384.5,270.5 2388.1,275.9 2392.7,281.9 2398.4,288.6 2405.1,295.9 2412.6,303.7 2421.1,311.9 2430.4,320.6 2440.5,329.6 2451.2,338.9 2462.5,348.3 2474.3,357.8 2486.6,367.4 2499.2,377.0 2512.0,386.5 2527.0,397.3 2542.0,408.0 2556.9,418.4 2571.5,428.5 2585.7,438.2 2599.4,447.4 2612.5,456.0 2625.0,463.9 2636.7,471.2 2647.5,477.7 2657.4,483.4 2666.2,488.2 2674.0,492.1 2680.7,495.1 2686.2,497.1 2690.5,498.1 2693.5,498.2Z" fill="#5aa2cf"/>
<path d="M2690.8,493.8 2691.3,491.8 2690.6,488.9 2688.6,485.1 2685.3,480.3 2680.9,474.7 2675.3,468.3 2668.6,461.1 2660.8,453.2 2652.0,444.6 2642.2,435.5 2631.6,425.7 2620.2,415.5 2608.1,404.9 2595.5,394.0 2582.3,382.8 2568.8,371.5 2554.9,360.1 2540.9,348.7 2528.7,339.1 2516.5,329.7 2504.4,320.6 2492.4,312.0 2480.6,303.8 2469.2,296.1 2458.1,289.0 2447.6,282.5 2437.6,276.7 2428.3,271.6 2419.7,267.3 2411.9,263.8 2405.0,261.0 2398.9,259.1 2393.9,258.0 2389.9,257.8 2386.9,258.4 2384.9,259.8 2384.1,262.0 2384.4,264.9 2385.8,268.6 2388.2,273.1 2391.7,278.3 2396.3,284.2 2401.8,290.7 2408.3,297.8 2415.7,305.4 2423.9,313.4 2433.0,321.8 2442.7,330.6 2453.2,339.6 2464.2,348.8 2475.7,358.1 2487.7,367.4 2499.9,376.7 2512.4,386.0 2527.0,396.6 2541.6,407.0 2556.1,417.1 2570.3,426.9 2584.1,436.3 2597.5,445.3 2610.2,453.7 2622.4,461.4 2633.7,468.5 2644.3,474.8 2653.9,480.4 2662.5,485.0 2670.1,488.9 2676.6,491.7 2682.0,493.7 2686.1,494.7 2689.1,494.7Z" fill="#549fcd"/>
<path d="M2686.3,490.4 2686.8,488.5 2686.1,485.6 2684.2,481.9 2681.0,477.3 2676.7,471.8 2671.3,465.6 2664.7,458.6 2657.1,450.9 2648.6,442.5 2639.1,433.6 2628.7,424.1 2617.7,414.2 2605.9,403.9 2593.6,393.3 2580.8,382.4 2567.6,371.4 2554.1,360.3 2540.5,349.2 2528.6,339.9 2516.8,330.8 2505.0,321.9 2493.3,313.5 2481.8,305.5 2470.7,298.0 2459.9,291.1 2449.7,284.8 2440.0,279.2 2430.9,274.3 2422.6,270.1 2415.0,266.6 2408.2,264.0 2402.4,262.1 2397.5,261.0 2393.6,260.8 2390.6,261.4 2388.7,262.8 2388.0,264.8 2388.3,267.7 2389.6,271.3 2392.0,275.7 2395.4,280.7 2399.8,286.5 2405.2,292.8 2411.5,299.7 2418.7,307.0 2426.7,314.9 2435.5,323.1 2445.0,331.6 2455.2,340.4 2465.9,349.3 2477.1,358.3 2488.7,367.4 2500.6,376.5 2512.8,385.5 2527.0,395.8 2541.2,405.9 2555.2,415.8 2569.1,425.3 2582.5,434.5 2595.5,443.2 2607.9,451.3 2619.7,458.9 2630.8,465.8 2641.0,471.9 2650.4,477.3 2658.8,481.9 2666.2,485.6 2672.5,488.4 2677.7,490.3 2681.8,491.2 2684.6,491.3Z" fill="#4f9bcb"/>
<path d="M2681.8,486.9 2682.3,485.1 2681.6,482.3 2679.7,478.7 2676.7,474.2 2672.5,468.9 2667.2,462.8 2660.9,456.0 2653.5,448.5 2645.2,440.4 2635.9,431.7 2625.9,422.5 2615.1,412.9 2603.7,402.9 2591.7,392.5 2579.3,382.0 2566.5,371.3 2553.4,360.5 2540.1,349.8 2528.6,340.7 2517.0,331.8 2505.5,323.2 2494.2,315.0 2483.1,307.3 2472.2,300.0 2461.8,293.3 2451.8,287.2 2442.4,281.7 2433.6,276.9 2425.4,272.8 2418.1,269.5 2411.5,266.9 2405.9,265.0 2401.1,264.0 2397.3,263.8 2394.4,264.3 2392.6,265.7 2391.9,267.7 2392.1,270.5 2393.4,274.0 2395.7,278.3 2399.1,283.2 2403.3,288.7 2408.6,294.9 2414.7,301.6 2421.7,308.7 2429.5,316.3 2438.1,324.3 2447.3,332.6 2457.2,341.1 2467.6,349.8 2478.5,358.6 2489.8,367.4 2501.4,376.2 2513.1,385.0 2527.0,395.0 2540.8,404.9 2554.4,414.5 2567.8,423.8 2580.9,432.7 2593.5,441.1 2605.6,449.0 2617.1,456.4 2627.8,463.1 2637.8,469.0 2646.9,474.3 2655.1,478.7 2662.3,482.3 2668.4,485.0 2673.5,486.9 2677.4,487.8 2680.2,487.8Z" fill="#4a98c9"/>
<path d="M2677.3,483.5 2677.8,481.7 2677.1,479.0 2675.3,475.5 2672.4,471.1 2668.3,466.0 2663.2,460.1 2657.0,453.5 2649.8,446.2 2641.7,438.3 2632.8,429.9 2623.0,420.9 2612.6,411.6 2601.5,401.8 2589.9,391.8 2577.8,381.5 2565.3,371.1 2552.6,360.7 2539.7,350.3 2528.5,341.5 2517.3,332.9 2506.1,324.5 2495.1,316.6 2484.3,309.1 2473.8,302.0 2463.6,295.5 2453.9,289.5 2444.8,284.2 2436.2,279.6 2428.3,275.6 2421.2,272.3 2414.8,269.8 2409.3,268.0 2404.7,267.0 2401.0,266.8 2398.2,267.3 2396.4,268.6 2395.7,270.6 2396.0,273.3 2397.3,276.7 2399.5,280.8 2402.7,285.6 2406.9,291.0 2412.0,297.0 2417.9,303.5 2424.7,310.4 2432.3,317.8 2440.6,325.6 2449.6,333.6 2459.2,341.9 2469.3,350.3 2479.9,358.8 2490.8,367.4 2502.1,376.0 2513.5,384.5 2526.9,394.2 2540.3,403.8 2553.6,413.2 2566.6,422.2 2579.3,430.8 2591.6,439.0 2603.3,446.7 2614.5,453.8 2624.9,460.3 2634.6,466.1 2643.4,471.2 2651.4,475.5 2658.3,479.0 2664.3,481.6 2669.2,483.4 2673.1,484.3 2675.8,484.4Z" fill="#4594c7"/>
<path d="M2672.8,480.1 2673.3,478.3 2672.6,475.7 2670.9,472.3 2668.0,468.0 2664.1,463.0 2659.1,457.3 2653.1,450.9 2646.1,443.9 2638.3,436.2 2629.6,428.0 2620.2,419.3 2610.0,410.3 2599.3,400.8 2588.0,391.1 2576.2,381.1 2564.2,371.0 2551.8,360.9 2539.3,350.8 2528.4,342.3 2517.5,333.9 2506.7,325.9 2496.0,318.1 2485.5,310.8 2475.3,304.0 2465.5,297.7 2456.1,291.9 2447.2,286.7 2438.9,282.2 2431.3,278.3 2424.3,275.2 2418.2,272.7 2412.8,271.0 2408.3,270.0 2404.7,269.8 2402.0,270.3 2400.3,271.6 2399.6,273.5 2399.9,276.1 2401.1,279.4 2403.3,283.4 2406.4,288.1 2410.5,293.3 2415.4,299.1 2421.2,305.4 2427.8,312.1 2435.1,319.3 2443.2,326.8 2451.9,334.6 2461.2,342.6 2471.0,350.8 2481.3,359.1 2491.9,367.4 2502.8,375.7 2513.9,384.0 2526.9,393.5 2539.9,402.8 2552.8,411.8 2565.4,420.6 2577.7,429.0 2589.6,436.9 2601.0,444.4 2611.8,451.3 2621.9,457.6 2631.3,463.2 2639.9,468.1 2647.6,472.3 2654.4,475.7 2660.2,478.3 2665.0,480.0 2668.7,480.9 2671.3,480.9Z" fill="#4090c5"/>
<path d="M2668.3,476.6 2668.7,474.9 2668.1,472.4 2666.4,469.0 2663.6,464.9 2659.8,460.1 2655.0,454.6 2649.2,448.3 2642.4,441.5 2634.8,434.1 2626.4,426.1 2617.3,417.7 2607.4,408.9 2597.0,399.8 2586.1,390.3 2574.7,380.7 2563.0,370.9 2551.0,361.1 2538.9,351.3 2528.3,343.1 2517.8,335.0 2507.3,327.2 2496.9,319.7 2486.8,312.6 2476.9,306.0 2467.3,299.9 2458.2,294.3 2449.6,289.3 2441.6,284.9 2434.2,281.1 2427.5,278.1 2421.5,275.7 2416.3,274.0 2412.0,273.1 2408.5,272.8 2405.9,273.4 2404.2,274.6 2403.5,276.4 2403.8,279.0 2405.0,282.2 2407.1,286.0 2410.1,290.5 2414.1,295.6 2418.8,301.2 2424.4,307.3 2430.8,313.8 2438.0,320.8 2445.8,328.0 2454.2,335.6 2463.2,343.4 2472.7,351.3 2482.7,359.4 2493.0,367.4 2503.5,375.5 2514.3,383.5 2526.9,392.7 2539.5,401.7 2551.9,410.5 2564.2,419.0 2576.1,427.1 2587.6,434.8 2598.7,442.0 2609.2,448.7 2619.0,454.8 2628.1,460.3 2636.4,465.0 2643.9,469.1 2650.4,472.4 2656.0,474.8 2660.7,476.5 2664.3,477.4 2666.8,477.4Z" fill="#3c8cc3"/>
<path d="M2663.7,473.1 2664.2,471.4 2663.5,469.0 2661.9,465.8 2659.2,461.8 2655.5,457.1 2650.8,451.8 2645.2,445.7 2638.7,439.1 2631.4,431.9 2623.2,424.2 2614.4,416.1 2604.8,407.6 2594.8,398.7 2584.2,389.6 2573.2,380.3 2561.8,370.8 2550.2,361.3 2538.5,351.9 2528.3,343.9 2518.1,336.1 2507.9,328.5 2497.9,321.3 2488.0,314.4 2478.4,308.0 2469.2,302.1 2460.4,296.7 2452.1,291.8 2444.3,287.6 2437.1,283.9 2430.6,281.0 2424.8,278.7 2419.8,277.0 2415.6,276.1 2412.3,275.9 2409.8,276.4 2408.1,277.6 2407.5,279.4 2407.7,281.8 2408.9,284.9 2410.9,288.7 2413.9,293.0 2417.7,297.9 2422.3,303.3 2427.7,309.2 2433.9,315.6 2440.8,322.3 2448.4,329.3 2456.5,336.6 2465.3,344.1 2474.5,351.8 2484.1,359.6 2494.1,367.4 2504.3,375.2 2514.7,383.0 2526.8,391.9 2539.0,400.6 2551.1,409.1 2562.9,417.3 2574.5,425.2 2585.7,432.7 2596.3,439.7 2606.5,446.1 2616.0,452.0 2624.8,457.3 2632.8,461.9 2640.1,465.8 2646.4,469.0 2651.9,471.4 2656.3,473.0 2659.8,473.9 2662.3,473.9Z" fill="#3888c1"/>
<path d="M2659.1,469.6 2659.5,468.0 2658.9,465.6 2657.3,462.5 2654.8,458.7 2651.2,454.1 2646.7,448.9 2641.2,443.1 2635.0,436.7 2627.8,429.8 2620.0,422.3 2611.4,414.5 2602.2,406.2 2592.5,397.7 2582.2,388.8 2571.6,379.8 2560.6,370.7 2549.4,361.5 2538.1,352.4 2528.2,344.7 2518.3,337.1 2508.5,329.8 2498.8,322.9 2489.3,316.2 2480.0,310.0 2471.1,304.3 2462.6,299.1 2454.5,294.4 2447.0,290.3 2440.1,286.8 2433.8,283.9 2428.2,281.7 2423.4,280.1 2419.3,279.2 2416.1,279.0 2413.7,279.5 2412.1,280.6 2411.5,282.3 2411.7,284.7 2412.8,287.7 2414.8,291.3 2417.7,295.5 2421.3,300.2 2425.8,305.5 2431.0,311.2 2437.0,317.3 2443.7,323.8 2451.0,330.6 2458.9,337.6 2467.3,344.9 2476.2,352.4 2485.5,359.9 2495.1,367.4 2505.0,375.0 2515.0,382.5 2526.8,391.1 2538.6,399.5 2550.2,407.8 2561.7,415.7 2572.9,423.3 2583.6,430.5 2594.0,437.3 2603.8,443.5 2613.0,449.2 2621.5,454.3 2629.3,458.8 2636.2,462.6 2642.4,465.6 2647.6,467.9 2652.0,469.5 2655.3,470.3 2657.7,470.3Z" fill="#3484bf"/>
<path d="M2654.4,466.0 2654.8,464.5 2654.3,462.2 2652.7,459.2 2650.2,455.5 2646.8,451.1 2642.4,446.1 2637.2,440.5 2631.1,434.3 2624.3,427.6 2616.7,420.4 2608.4,412.8 2599.6,404.9 2590.2,396.6 2580.3,388.1 2570.0,379.4 2559.4,370.6 2548.6,361.8 2537.6,353.0 2528.1,345.5 2518.6,338.2 2509.1,331.2 2499.7,324.5 2490.6,318.1 2481.6,312.1 2473.0,306.6 2464.8,301.5 2457.0,297.0 2449.8,293.0 2443.1,289.6 2437.1,286.8 2431.7,284.7 2427.0,283.2 2423.1,282.3 2419.9,282.1 2417.6,282.6 2416.1,283.7 2415.5,285.3 2415.7,287.6 2416.8,290.5 2418.7,294.0 2421.5,298.0 2425.0,302.6 2429.3,307.7 2434.4,313.1 2440.2,319.1 2446.6,325.3 2453.7,331.9 2461.3,338.7 2469.4,345.7 2478.0,352.9 2487.0,360.1 2496.2,367.4 2505.8,374.7 2515.4,382.0 2526.8,390.3 2538.1,398.4 2549.4,406.4 2560.4,414.0 2571.2,421.4 2581.6,428.3 2591.6,434.9 2601.0,440.9 2609.9,446.4 2618.1,451.3 2625.6,455.6 2632.4,459.2 2638.3,462.2 2643.4,464.4 2647.5,466.0 2650.8,466.7 2653.1,466.7Z" fill="#3080bd"/>
<path d="M2649.7,462.4 2650.1,460.9 2649.6,458.7 2648.1,455.8 2645.7,452.2 2642.4,448.0 2638.2,443.2 2633.1,437.8 2627.3,431.8 2620.7,425.4 2613.4,418.4 2605.4,411.1 2596.9,403.5 2587.8,395.5 2578.3,387.3 2568.4,379.0 2558.2,370.5 2547.8,362.0 2537.2,353.5 2528.0,346.3 2518.9,339.3 2509.7,332.6 2500.7,326.1 2491.9,319.9 2483.3,314.2 2475.0,308.8 2467.1,304.0 2459.6,299.6 2452.6,295.8 2446.2,292.5 2440.3,289.9 2435.2,287.8 2430.7,286.3 2426.9,285.5 2423.9,285.3 2421.6,285.7 2420.2,286.8 2419.6,288.4 2419.8,290.6 2420.9,293.4 2422.7,296.7 2425.3,300.6 2428.8,305.0 2432.9,309.9 2437.8,315.2 2443.4,320.8 2449.6,326.9 2456.3,333.2 2463.7,339.7 2471.5,346.5 2479.8,353.4 2488.4,360.4 2497.4,367.5 2506.5,374.5 2515.8,381.5 2526.8,389.5 2537.7,397.3 2548.5,405.0 2559.1,412.4 2569.5,419.4 2579.5,426.1 2589.1,432.4 2598.2,438.2 2606.8,443.5 2614.7,448.3 2621.9,452.4 2628.4,455.9 2634.2,458.7 2639.0,460.9 2643.1,462.3 2646.2,463.1 2648.4,463.1Z" fill="#2c7cba"/>
<path d="M2644.9,458.7 2645.3,457.3 2644.8,455.1 2643.3,452.4 2641.0,448.9 2637.8,444.9 2633.8,440.2 2629.0,435.0 2623.4,429.3 2617.0,423.1 2610.0,416.5 2602.4,409.4 2594.1,402.1 2585.4,394.4 2576.3,386.5 2566.8,378.5 2557.0,370.4 2547.0,362.2 2536.8,354.1 2528.0,347.2 2519.1,340.5 2510.4,334.0 2501.7,327.7 2493.2,321.8 2484.9,316.3 2477.0,311.2 2469.3,306.5 2462.2,302.3 2455.5,298.6 2449.3,295.5 2443.7,292.9 2438.7,290.9 2434.4,289.5 2430.7,288.7 2427.8,288.5 2425.7,288.9 2424.3,289.9 2423.7,291.5 2424.0,293.6 2425.0,296.3 2426.7,299.5 2429.3,303.2 2432.6,307.4 2436.6,312.1 2441.2,317.2 2446.6,322.7 2452.6,328.4 2459.1,334.5 2466.1,340.8 2473.7,347.3 2481.6,354.0 2489.9,360.7 2498.5,367.5 2507.3,374.2 2516.2,380.9 2526.7,388.6 2537.2,396.2 2547.6,403.5 2557.9,410.6 2567.8,417.4 2577.4,423.9 2586.7,429.9 2595.4,435.5 2603.6,440.6 2611.2,445.1 2618.2,449.1 2624.4,452.5 2629.9,455.2 2634.6,457.3 2638.5,458.7 2641.5,459.4 2643.7,459.4Z" fill="#2777b8"/>
<path d="M2640.0,454.9 2640.4,453.6 2639.9,451.5 2638.5,448.9 2636.3,445.6 2633.2,441.7 2629.4,437.2 2624.7,432.2 2619.4,426.7 2613.3,420.8 2606.6,414.4 2599.2,407.7 2591.4,400.6 2583.0,393.3 2574.2,385.7 2565.1,378.0 2555.7,370.3 2546.1,362.4 2536.3,354.6 2527.9,348.0 2519.4,341.6 2511.0,335.4 2502.7,329.4 2494.5,323.7 2486.6,318.4 2479.0,313.5 2471.7,309.0 2464.8,305.0 2458.4,301.5 2452.4,298.5 2447.1,296.0 2442.3,294.1 2438.2,292.8 2434.7,292.0 2431.9,291.8 2429.8,292.2 2428.5,293.2 2428.0,294.6 2428.2,296.7 2429.2,299.2 2430.9,302.3 2433.3,305.9 2436.4,309.9 2440.3,314.4 2444.8,319.3 2449.9,324.5 2455.6,330.1 2461.9,335.9 2468.6,341.9 2475.9,348.2 2483.5,354.5 2491.4,361.0 2499.6,367.5 2508.1,374.0 2516.6,380.4 2526.7,387.8 2536.8,395.0 2546.7,402.1 2556.5,408.9 2566.1,415.4 2575.3,421.6 2584.2,427.4 2592.6,432.7 2600.4,437.6 2607.7,442.0 2614.4,445.8 2620.4,449.0 2625.6,451.6 2630.2,453.6 2633.9,454.9 2636.8,455.6 2638.8,455.6Z" fill="#2373b6"/>
<path d="M2635.0,451.1 2635.3,449.8 2634.9,447.8 2633.6,445.3 2631.4,442.1 2628.5,438.4 2624.8,434.2 2620.4,429.4 2615.3,424.1 2609.5,418.4 2603.0,412.4 2596.0,405.9 2588.5,399.2 2580.5,392.2 2572.1,384.9 2563.4,377.6 2554.4,370.1 2545.2,362.7 2535.9,355.2 2527.8,348.9 2519.7,342.8 2511.7,336.8 2503.7,331.1 2495.9,325.7 2488.3,320.6 2481.0,315.9 2474.1,311.7 2467.5,307.8 2461.3,304.4 2455.7,301.6 2450.6,299.2 2446.0,297.4 2442.0,296.1 2438.7,295.3 2436.1,295.2 2434.1,295.5 2432.8,296.5 2432.3,297.9 2432.5,299.8 2433.4,302.2 2435.1,305.2 2437.4,308.6 2440.4,312.5 2444.1,316.7 2448.4,321.4 2453.3,326.4 2458.7,331.7 2464.7,337.3 2471.2,343.0 2478.1,349.0 2485.4,355.1 2493.0,361.3 2500.8,367.5 2508.9,373.7 2517.1,379.8 2526.7,386.9 2536.3,393.9 2545.8,400.6 2555.2,407.1 2564.3,413.3 2573.1,419.2 2581.6,424.8 2589.6,429.9 2597.1,434.5 2604.1,438.7 2610.5,442.3 2616.2,445.4 2621.3,447.9 2625.6,449.8 2629.1,451.1 2631.9,451.7 2633.8,451.7Z" fill="#206fb4"/>
<path d="M2629.8,447.2 2630.2,445.9 2629.7,444.1 2628.5,441.6 2626.5,438.6 2623.7,435.1 2620.2,431.0 2616.0,426.5 2611.1,421.5 2605.5,416.0 2599.4,410.2 2592.7,404.1 2585.6,397.7 2578.0,391.0 2570.0,384.1 2561.7,377.1 2553.1,370.0 2544.3,362.9 2535.4,355.8 2527.7,349.8 2520.0,344.0 2512.3,338.3 2504.8,332.9 2497.3,327.7 2490.1,322.9 2483.2,318.4 2476.5,314.3 2470.2,310.7 2464.4,307.5 2459.0,304.7 2454.1,302.5 2449.8,300.7 2446.0,299.5 2442.8,298.8 2440.3,298.6 2438.4,299.0 2437.2,299.8 2436.8,301.2 2437.0,303.0 2437.8,305.3 2439.4,308.1 2441.6,311.4 2444.5,315.1 2448.0,319.1 2452.1,323.6 2456.7,328.3 2461.9,333.4 2467.7,338.7 2473.8,344.2 2480.4,349.9 2487.3,355.7 2494.5,361.6 2502.0,367.5 2509.7,373.4 2517.5,379.3 2526.7,386.0 2535.8,392.6 2544.9,399.1 2553.8,405.3 2562.5,411.2 2570.9,416.8 2579.0,422.1 2586.6,427.0 2593.8,431.4 2600.4,435.4 2606.5,438.8 2611.9,441.8 2616.7,444.1 2620.9,445.9 2624.2,447.2 2626.9,447.8 2628.7,447.8Z" fill="#1d6cb1"/>
<path d="M2624.5,443.1 2624.8,441.9 2624.4,440.2 2623.2,437.8 2621.3,435.0 2618.7,431.6 2615.4,427.8 2611.4,423.4 2606.7,418.7 2601.5,413.5 2595.7,408.0 2589.3,402.2 2582.5,396.1 2575.3,389.8 2567.8,383.3 2559.9,376.6 2551.7,369.9 2543.4,363.2 2535.0,356.4 2527.7,350.8 2520.3,345.2 2513.0,339.8 2505.8,334.7 2498.8,329.8 2491.9,325.2 2485.3,321.0 2479.0,317.1 2473.1,313.6 2467.5,310.6 2462.4,308.0 2457.8,305.8 2453.7,304.2 2450.1,303.0 2447.1,302.3 2444.7,302.2 2442.9,302.5 2441.8,303.3 2441.3,304.6 2441.5,306.3 2442.4,308.5 2443.8,311.2 2445.9,314.3 2448.7,317.8 2452.0,321.6 2455.9,325.8 2460.3,330.3 2465.3,335.1 2470.7,340.2 2476.5,345.4 2482.7,350.8 2489.3,356.3 2496.2,361.9 2503.3,367.5 2510.5,373.1 2517.9,378.7 2526.6,385.1 2535.3,391.4 2543.9,397.5 2552.4,403.4 2560.6,409.0 2568.6,414.4 2576.2,419.4 2583.5,424.0 2590.3,428.2 2596.6,431.9 2602.4,435.2 2607.5,438.0 2612.1,440.3 2616.0,442.0 2619.2,443.1 2621.7,443.7 2623.5,443.7Z" fill="#1a68ae"/>
<path d="M2619.0,438.9 2619.3,437.8 2618.9,436.1 2617.8,433.9 2616.0,431.2 2613.6,428.0 2610.4,424.4 2606.6,420.3 2602.3,415.8 2597.3,411.0 2591.8,405.8 2585.8,400.3 2579.4,394.5 2572.6,388.5 2565.4,382.4 2558.0,376.1 2550.3,369.8 2542.5,363.4 2534.5,357.1 2527.6,351.7 2520.6,346.5 2513.8,341.4 2507.0,336.6 2500.3,332.0 2493.8,327.6 2487.6,323.6 2481.7,320.0 2476.0,316.7 2470.8,313.8 2466.0,311.3 2461.6,309.3 2457.7,307.7 2454.3,306.6 2451.5,306.0 2449.3,305.8 2447.6,306.1 2446.5,306.9 2446.1,308.1 2446.3,309.8 2447.1,311.8 2448.4,314.4 2450.4,317.3 2453.0,320.5 2456.1,324.2 2459.8,328.2 2464.0,332.4 2468.7,336.9 2473.8,341.7 2479.3,346.6 2485.2,351.7 2491.4,356.9 2497.9,362.2 2504.6,367.5 2511.4,372.8 2518.4,378.1 2526.6,384.1 2534.8,390.1 2542.9,395.9 2550.9,401.4 2558.7,406.7 2566.2,411.8 2573.4,416.5 2580.3,420.9 2586.7,424.8 2592.7,428.4 2598.1,431.5 2603.0,434.1 2607.3,436.2 2611.0,437.8 2614.0,438.9 2616.4,439.5 2618.1,439.5Z" fill="#1764ab"/>
<path d="M2613.3,434.5 2613.6,433.5 2613.2,431.9 2612.2,429.8 2610.5,427.3 2608.2,424.3 2605.2,420.9 2601.7,417.1 2597.6,412.9 2592.9,408.3 2587.8,403.4 2582.2,398.3 2576.2,392.8 2569.8,387.2 2563.0,381.5 2556.1,375.6 2548.8,369.6 2541.5,363.7 2534.0,357.7 2527.5,352.7 2521.0,347.8 2514.5,343.1 2508.1,338.5 2501.9,334.2 2495.8,330.1 2490.0,326.4 2484.4,322.9 2479.1,319.9 2474.2,317.2 2469.7,314.8 2465.6,312.9 2461.9,311.5 2458.8,310.4 2456.1,309.8 2454.0,309.7 2452.4,310.0 2451.4,310.7 2451.0,311.8 2451.2,313.3 2451.9,315.3 2453.2,317.6 2455.1,320.4 2457.5,323.5 2460.5,326.9 2463.9,330.6 2467.9,334.6 2472.2,338.8 2477.0,343.3 2482.2,347.9 2487.7,352.7 2493.5,357.6 2499.6,362.5 2505.9,367.5 2512.3,372.5 2518.9,377.5 2526.6,383.1 2534.2,388.7 2541.9,394.1 2549.4,399.4 2556.7,404.4 2563.7,409.1 2570.5,413.5 2576.9,417.6 2583.0,421.3 2588.5,424.7 2593.7,427.6 2598.2,430.0 2602.3,432.0 2605.7,433.5 2608.6,434.5 2610.8,435.1 2612.4,435.0Z" fill="#1460a8"/>
<path d="M2607.3,429.9 2607.6,428.9 2607.2,427.5 2606.3,425.6 2604.7,423.2 2602.5,420.4 2599.8,417.2 2596.5,413.7 2592.7,409.7 2588.4,405.5 2583.6,400.9 2578.3,396.1 2572.7,391.1 2566.8,385.9 2560.5,380.5 2554.0,375.0 2547.3,369.5 2540.4,364.0 2533.4,358.4 2527.4,353.8 2521.3,349.2 2515.3,344.8 2509.4,340.6 2503.5,336.5 2497.9,332.8 2492.4,329.3 2487.3,326.1 2482.4,323.2 2477.8,320.7 2473.6,318.5 2469.7,316.7 2466.4,315.4 2463.4,314.4 2460.9,313.8 2459.0,313.7 2457.5,314.0 2456.6,314.6 2456.2,315.7 2456.4,317.1 2457.1,318.9 2458.3,321.1 2460.0,323.6 2462.3,326.5 2465.0,329.7 2468.2,333.1 2471.9,336.9 2476.0,340.8 2480.4,345.0 2485.3,349.3 2490.4,353.7 2495.8,358.3 2501.5,362.9 2507.3,367.5 2513.3,372.2 2519.4,376.8 2526.5,382.1 2533.7,387.3 2540.8,392.3 2547.7,397.2 2554.5,401.9 2561.1,406.3 2567.4,410.4 2573.4,414.2 2579.0,417.7 2584.2,420.8 2589.0,423.5 2593.3,425.8 2597.0,427.6 2600.3,429.0 2602.9,430.0 2605.0,430.4 2606.4,430.4Z" fill="#115ca5"/>
<path d="M2600.9,425.1 2601.2,424.2 2600.9,422.8 2600.0,421.0 2598.6,418.9 2596.6,416.3 2594.0,413.3 2591.0,410.1 2587.5,406.4 2583.5,402.5 2579.1,398.3 2574.3,393.9 2569.1,389.3 2563.6,384.5 2557.8,379.5 2551.8,374.5 2545.6,369.4 2539.3,364.3 2532.9,359.2 2527.3,354.9 2521.7,350.7 2516.2,346.6 2510.7,342.7 2505.3,339.0 2500.1,335.5 2495.1,332.3 2490.3,329.4 2485.8,326.7 2481.6,324.4 2477.7,322.4 2474.2,320.8 2471.0,319.5 2468.3,318.6 2466.1,318.1 2464.2,317.9 2462.9,318.2 2462.0,318.8 2461.7,319.8 2461.8,321.1 2462.5,322.7 2463.6,324.8 2465.2,327.1 2467.3,329.7 2469.8,332.7 2472.8,335.9 2476.2,339.3 2479.9,342.9 2484.0,346.7 2488.5,350.7 2493.2,354.8 2498.2,359.0 2503.4,363.3 2508.8,367.6 2514.3,371.8 2519.9,376.1 2526.5,381.0 2533.1,385.8 2539.6,390.4 2546.0,394.9 2552.3,399.2 2558.4,403.3 2564.2,407.1 2569.7,410.6 2574.9,413.8 2579.7,416.7 2584.1,419.1 2588.0,421.2 2591.5,423.0 2594.4,424.2 2596.9,425.1 2598.8,425.5 2600.2,425.5Z" fill="#0e58a2"/>
<path d="M2594.1,419.9 2594.4,419.0 2594.1,417.8 2593.3,416.2 2592.0,414.2 2590.2,411.9 2587.9,409.2 2585.1,406.2 2581.9,402.9 2578.3,399.3 2574.3,395.5 2569.9,391.5 2565.2,387.3 2560.2,382.9 2555.0,378.4 2549.5,373.9 2543.9,369.2 2538.1,364.6 2532.3,360.0 2527.2,356.1 2522.1,352.3 2517.1,348.6 2512.1,345.0 2507.2,341.7 2502.5,338.5 2497.9,335.6 2493.6,332.9 2489.4,330.5 2485.6,328.4 2482.1,326.6 2478.9,325.1 2476.1,323.9 2473.6,323.1 2471.5,322.6 2469.9,322.5 2468.7,322.7 2467.9,323.3 2467.6,324.1 2467.7,325.3 2468.3,326.9 2469.3,328.7 2470.8,330.8 2472.7,333.2 2475.0,335.9 2477.7,338.8 2480.7,341.9 2484.2,345.2 2487.9,348.7 2491.9,352.3 2496.2,356.0 2500.8,359.8 2505.5,363.7 2510.4,367.6 2515.4,371.5 2520.5,375.4 2526.5,379.8 2532.5,384.2 2538.4,388.4 2544.2,392.5 2549.9,396.4 2555.4,400.1 2560.7,403.5 2565.7,406.7 2570.4,409.6 2574.8,412.2 2578.8,414.5 2582.3,416.4 2585.5,417.9 2588.2,419.1 2590.4,419.9 2592.2,420.3 2593.4,420.3Z" fill="#0a549e"/>
<path d="M2586.7,414.2 2586.9,413.4 2586.6,412.3 2585.9,410.9 2584.8,409.1 2583.2,407.0 2581.1,404.6 2578.7,402.0 2575.8,399.0 2572.6,395.9 2569.0,392.5 2565.1,388.9 2561.0,385.1 2556.5,381.3 2551.8,377.3 2547.0,373.2 2541.9,369.1 2536.8,365.0 2531.6,360.8 2527.1,357.4 2522.6,354.0 2518.1,350.7 2513.6,347.6 2509.3,344.6 2505.0,341.8 2501.0,339.1 2497.1,336.8 2493.5,334.6 2490.0,332.7 2486.9,331.1 2484.1,329.8 2481.5,328.8 2479.3,328.0 2477.5,327.6 2476.1,327.5 2475.0,327.7 2474.3,328.2 2474.0,328.9 2474.1,330.0 2474.7,331.3 2475.6,333.0 2476.9,334.8 2478.6,337.0 2480.6,339.3 2483.0,341.9 2485.7,344.7 2488.8,347.6 2492.1,350.7 2495.7,354.0 2499.5,357.3 2503.6,360.7 2507.8,364.1 2512.1,367.6 2516.6,371.1 2521.1,374.5 2526.4,378.5 2531.8,382.4 2537.0,386.2 2542.2,389.8 2547.3,393.3 2552.2,396.6 2556.9,399.7 2561.4,402.5 2565.5,405.1 2569.4,407.4 2573.0,409.4 2576.2,411.1 2579.0,412.5 2581.4,413.5 2583.4,414.2 2584.9,414.5 2586.0,414.5Z" fill="#08509b"/>
<path d="M2578.3,407.8 2578.5,407.1 2578.3,406.2 2577.7,404.9 2576.7,403.4 2575.3,401.6 2573.6,399.6 2571.5,397.3 2569.0,394.7 2566.2,392.0 2563.1,389.1 2559.8,386.0 2556.2,382.7 2552.3,379.4 2548.3,376.0 2544.1,372.4 2539.8,368.9 2535.4,365.4 2530.9,361.8 2527.0,358.8 2523.0,355.9 2519.2,353.1 2515.3,350.4 2511.6,347.8 2507.9,345.4 2504.4,343.1 2501.1,341.1 2497.9,339.2 2495.0,337.6 2492.3,336.2 2489.9,335.1 2487.7,334.2 2485.8,333.5 2484.2,333.2 2483.0,333.1 2482.0,333.2 2481.4,333.6 2481.2,334.3 2481.3,335.2 2481.8,336.4 2482.6,337.8 2483.7,339.4 2485.1,341.2 2486.9,343.3 2489.0,345.5 2491.3,347.9 2494.0,350.4 2496.8,353.1 2499.9,355.9 2503.2,358.7 2506.7,361.7 2510.3,364.6 2514.1,367.6 2517.9,370.6 2521.8,373.6 2526.4,377.0 2531.0,380.4 2535.5,383.7 2540.0,386.8 2544.4,389.8 2548.6,392.7 2552.6,395.3 2556.5,397.8 2560.1,400.0 2563.5,402.0 2566.5,403.7 2569.3,405.2 2571.7,406.4 2573.8,407.2 2575.5,407.8 2576.8,408.1 2577.8,408.1Z" fill="#084c95"/>
<path d="M2568.6,400.3 2568.7,399.8 2568.6,399.0 2568.1,398.0 2567.3,396.8 2566.2,395.3 2564.7,393.6 2563.0,391.7 2561.0,389.7 2558.8,387.5 2556.3,385.1 2553.5,382.6 2550.6,379.9 2547.5,377.2 2544.2,374.4 2540.8,371.6 2537.3,368.7 2533.6,365.8 2530.0,363.0 2526.8,360.5 2523.6,358.2 2520.5,355.9 2517.4,353.7 2514.3,351.6 2511.3,349.6 2508.5,347.8 2505.8,346.1 2503.2,344.6 2500.8,343.3 2498.6,342.2 2496.6,341.2 2494.9,340.5 2493.3,340.0 2492.1,339.7 2491.0,339.6 2490.3,339.7 2489.8,340.1 2489.6,340.6 2489.7,341.3 2490.1,342.3 2490.7,343.4 2491.7,344.7 2492.8,346.2 2494.3,347.9 2496.0,349.7 2497.9,351.6 2500.0,353.7 2502.3,355.8 2504.9,358.1 2507.5,360.4 2510.4,362.8 2513.3,365.2 2516.3,367.7 2519.5,370.1 2522.6,372.6 2526.4,375.3 2530.1,378.1 2533.8,380.7 2537.4,383.3 2541.0,385.7 2544.4,388.0 2547.7,390.2 2550.8,392.2 2553.7,394.0 2556.5,395.6 2559.0,397.0 2561.2,398.2 2563.2,399.2 2564.9,399.9 2566.3,400.4 2567.4,400.6 2568.1,400.6Z" fill="#08488e"/>
<path d="M2556.1,390.7 2556.2,390.4 2556.0,389.8 2555.7,389.1 2555.1,388.2 2554.3,387.2 2553.3,386.0 2552.1,384.7 2550.7,383.2 2549.1,381.6 2547.4,380.0 2545.5,378.2 2543.4,376.4 2541.2,374.4 2538.9,372.5 2536.5,370.5 2534.0,368.5 2531.4,366.4 2528.9,364.4 2526.6,362.7 2524.4,361.1 2522.2,359.4 2520.0,357.9 2517.8,356.4 2515.7,355.0 2513.7,353.8 2511.8,352.6 2510.0,351.5 2508.3,350.6 2506.8,349.8 2505.4,349.1 2504.1,348.6 2503.1,348.3 2502.2,348.0 2501.4,348.0 2500.9,348.1 2500.6,348.3 2500.4,348.7 2500.5,349.2 2500.8,349.8 2501.2,350.6 2501.9,351.6 2502.7,352.6 2503.7,353.8 2504.9,355.0 2506.3,356.4 2507.8,357.9 2509.4,359.4 2511.2,361.0 2513.1,362.6 2515.1,364.3 2517.1,366.0 2519.3,367.7 2521.5,369.5 2523.7,371.2 2526.3,373.1 2528.9,375.1 2531.5,376.9 2534.1,378.8 2536.6,380.5 2539.0,382.1 2541.3,383.6 2543.5,385.0 2545.6,386.3 2547.5,387.4 2549.3,388.4 2550.8,389.3 2552.2,389.9 2553.4,390.4 2554.4,390.8 2555.2,390.9 2555.7,390.9Z" fill="#084488"/>
</g>
<line x1="2528.63" y1="689.80" x2="2528.63" y2="74.40" stroke="#2f4f4f" stroke-width="4.17" stroke-dasharray="15.43 6.67"/>
<line x1="2161.30" y1="369.30" x2="2936.10" y2="369.30" stroke="#2f4f4f" stroke-width="4.17" stroke-dasharray="15.43 6.67"/>
<polygon points="2545.18,373.75 2547.05,379.52 2553.12,379.52 2548.21,383.09 2550.09,388.86 2545.18,385.29 2540.27,388.86 2542.14,383.09 2537.24,379.52 2543.30,379.52" fill="#ffd700" stroke="#ffd700" stroke-width="2.78" stroke-linejoin="round"/>
<rect x="2161.30" y="74.40" width="774.80" height="615.40" fill="none" stroke="#000" stroke-width="2.2"/>
<line x1="2231.74" y1="689.80" x2="2231.74" y2="699.50" stroke="#000" stroke-width="2.2"/>
<text x="2231.74" y="736.60" font-size="39.60" text-anchor="middle" textLength="87.60" lengthAdjust="spacingAndGlyphs" >0.300</text>
<line x1="2407.83" y1="689.80" x2="2407.83" y2="699.50" stroke="#000" stroke-width="2.2"/>
<text x="2407.83" y="736.60" font-size="39.60" text-anchor="middle" textLength="87.60" lengthAdjust="spacingAndGlyphs" >0.305</text>
<line x1="2583.92" y1="689.80" x2="2583.92" y2="699.50" stroke="#000" stroke-width="2.2"/>
<text x="2583.92" y="736.60" font-size="39.60" text-anchor="middle" textLength="87.60" lengthAdjust="spacingAndGlyphs" >0.310</text>
<line x1="2760.01" y1="689.80" x2="2760.01" y2="699.50" stroke="#000" stroke-width="2.2"/>
<text x="2760.01" y="736.60" font-size="39.60" text-anchor="middle" textLength="87.60" lengthAdjust="spacingAndGlyphs" >0.315</text>
<line x1="2936.10" y1="689.80" x2="2936.10" y2="699.50" stroke="#000" stroke-width="2.2"/>
<text x="2936.10" y="736.60" font-size="39.60" text-anchor="middle" textLength="87.60" lengthAdjust="spacingAndGlyphs" >0.320</text>
<line x1="2151.60" y1="135.94" x2="2161.30" y2="135.94" stroke="#000" stroke-width="2.2"/>
<text x="2141.40" y="149.64" font-size="39.60" text-anchor="end" textLength="97.40" lengthAdjust="spacingAndGlyphs" >−0.98</text>
<line x1="2151.60" y1="259.02" x2="2161.30" y2="259.02" stroke="#000" stroke-width="2.2"/>
<text x="2141.40" y="272.72" font-size="39.60" text-anchor="end" textLength="97.40" lengthAdjust="spacingAndGlyphs" >−0.99</text>
<line x1="2151.60" y1="382.10" x2="2161.30" y2="382.10" stroke="#000" stroke-width="2.2"/>
<text x="2141.40" y="395.80" font-size="39.60" text-anchor="end" textLength="97.40" lengthAdjust="spacingAndGlyphs" >−1.00</text>
<line x1="2151.60" y1="505.18" x2="2161.30" y2="505.18" stroke="#000" stroke-width="2.2"/>
<text x="2141.40" y="518.88" font-size="39.60" text-anchor="end" textLength="97.40" lengthAdjust="spacingAndGlyphs" >−1.01</text>
<line x1="2151.60" y1="628.26" x2="2161.30" y2="628.26" stroke="#000" stroke-width="2.2"/>
<text x="2141.40" y="641.96" font-size="39.60" text-anchor="end" textLength="97.40" lengthAdjust="spacingAndGlyphs" >−1.02</text>
<text x="2094.40" y="50.60" font-size="46.00" textLength="170.80" lengthAdjust="spacingAndGlyphs" >Modified</text>
<text x="2283.70" y="50.60" font-size="46.00" textLength="93.10" lengthAdjust="spacingAndGlyphs" >prior</text>
<text x="2396.20" y="50.60" font-size="46.00" font-style="italic" textLength="31.10" lengthAdjust="spacingAndGlyphs" >P</text>
<text x="2433.60" y="50.60" font-size="50.00" textLength="12.20" lengthAdjust="spacingAndGlyphs" >(</text>
<text x="2450.60" y="50.60" font-size="46.00" font-style="italic" textLength="20.40" lengthAdjust="spacingAndGlyphs" >k</text>
<text x="2475.00" y="50.60" font-size="50.00" textLength="12.20" lengthAdjust="spacingAndGlyphs" >)</text>
<text x="2510.20" y="50.60" font-size="50.00" textLength="12.20" lengthAdjust="spacingAndGlyphs" >(</text>
<text x="2522.40" y="50.60" font-size="46.00" textLength="30.20" lengthAdjust="spacingAndGlyphs" >Ω</text>
<text x="2554.60" y="57.40" font-size="26.00" textLength="25.80" lengthAdjust="spacingAndGlyphs" >m</text>
<text x="2595.30" y="55.00" font-size="46.00" textLength="34.60" lengthAdjust="spacingAndGlyphs" >=</text>
<text x="2644.40" y="50.60" font-size="42.00" textLength="77.00" lengthAdjust="spacingAndGlyphs" >0.40</text>
<text x="2726.60" y="50.60" font-size="46.00" >,</text>
<text x="2760.50" y="50.60" font-size="46.00" font-style="italic" textLength="28.20" lengthAdjust="spacingAndGlyphs" >w</text>
<text x="2791.20" y="57.40" font-size="31.00" textLength="14.40" lengthAdjust="spacingAndGlyphs" >0</text>
<text x="2821.40" y="55.00" font-size="46.00" textLength="34.60" lengthAdjust="spacingAndGlyphs" >=</text>
<text x="2870.80" y="55.00" font-size="46.00" textLength="36.60" lengthAdjust="spacingAndGlyphs" >−</text>
<text x="2908.40" y="50.60" font-size="42.00" textLength="76.00" lengthAdjust="spacingAndGlyphs" >0.85</text>
<text x="2987.80" y="50.60" font-size="50.00" textLength="12.60" lengthAdjust="spacingAndGlyphs" >)</text>
<rect x="2687.80" y="93.40" width="229.2" height="119.9" rx="7.8" ry="7.8" fill="#fff" fill-opacity="0.8" stroke="#ccc" stroke-opacity="0.8" stroke-width="2.78"/>
<line x1="2703.40" y1="122.6" x2="2781.20" y2="122.6" stroke="#2f4f4f" stroke-width="4.17" stroke-dasharray="15.43 6.67"/>
<polygon points="2742.30,171.65 2744.17,177.42 2750.24,177.42 2745.33,180.99 2747.21,186.76 2742.30,183.19 2737.39,186.76 2739.27,180.99 2734.36,177.42 2740.43,177.42" fill="#ffd700" stroke="#ffd700" stroke-width="2.78" stroke-linejoin="round"/>
<text x="2812.30" y="136.20" font-size="39.60" textLength="87.00" lengthAdjust="spacingAndGlyphs" >mean</text>
<text x="2813.30" y="190.00" font-size="39.60" textLength="65.20" lengthAdjust="spacingAndGlyphs" >true</text>
<text x="2523.90" y="774.90" font-size="39.80" textLength="26.60" lengthAdjust="spacingAndGlyphs" >Ω</text>
<text x="2551.50" y="781.60" font-size="27.50" textLength="21.50" lengthAdjust="spacingAndGlyphs" >m</text>
<g transform="translate(2019.4,402.1) rotate(-90)">
<text x="-1.00" y="0.00" font-size="40.50" font-style="italic" textLength="24.50" lengthAdjust="spacingAndGlyphs" >w</text>
<text x="23.30" y="6.80" font-size="28.00" textLength="15.00" lengthAdjust="spacingAndGlyphs" >0</text>
</g>
</svg>
</body></html>
